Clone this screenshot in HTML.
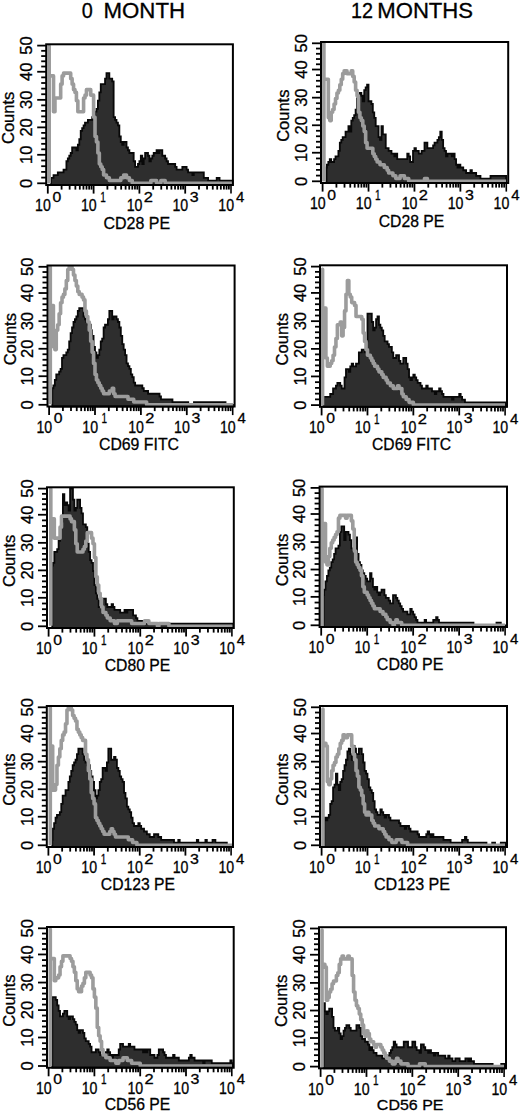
<!DOCTYPE html>
<html><head><meta charset="utf-8"><style>
html,body{margin:0;padding:0;background:#fff;}
svg{display:block;}
text{font-family:"Liberation Sans", sans-serif;fill:#000;stroke:#000;stroke-width:0.3px;}
</style></head><body>
<svg width="520" height="1114" viewBox="0 0 520 1114">
<rect width="520" height="1114" fill="#fff"/>
<text x="81.86" y="17.54" font-size="21.27" textLength="11.01" lengthAdjust="spacingAndGlyphs" stroke-width="0.5">0</text>
<text x="103.47" y="17.54" font-size="21.27" textLength="81.58" lengthAdjust="spacingAndGlyphs" stroke-width="0.5">MONTH</text>
<text x="351.07" y="17.75" font-size="21.57" textLength="22.02" lengthAdjust="spacingAndGlyphs" stroke-width="0.5">12</text>
<text x="377.28" y="17.54" font-size="21.27" textLength="95.83" lengthAdjust="spacingAndGlyphs" stroke-width="0.5">MONTHS</text>
<polygon points="50.92,185 50.92,177.79 53.53,177.79 53.53,175.04 57.82,175.04 57.82,172.28 63.54,172.28 63.54,169.53 66.41,169.53 66.41,161.27 67.84,161.27 67.84,158.51 69.27,158.51 69.27,155.76 70.7,155.76 70.7,153.01 72.13,153.01 72.13,147.5 76.43,147.5 76.43,150.25 77.86,150.25 77.86,144.74 79.29,144.74 79.29,139.24 80.72,139.24 80.72,130.97 82.15,130.97 82.15,128.22 83.58,128.22 83.58,125.47 85.01,125.47 85.01,122.71 87.88,122.71 87.88,119.96 92.17,119.96 92.17,117.2 93.6,117.2 93.6,114.45 95.03,114.45 95.03,111.7 96.46,111.7 96.46,108.94 97.89,108.94 97.89,100.68 99.33,100.68 99.33,92.42 100.76,92.42 100.76,84.16 105.05,84.16 105.05,78.65 106.48,78.65 106.48,73.14 109.34,73.14 109.34,78.65 112.21,78.65 112.21,81.4 113.64,81.4 113.64,117.2 115.07,117.2 115.07,119.96 116.5,119.96 116.5,122.71 117.93,122.71 117.93,125.47 119.36,125.47 119.36,136.48 120.79,136.48 120.79,141.99 122.22,141.99 122.22,144.74 123.66,144.74 123.66,141.99 126.52,141.99 126.52,147.5 127.95,147.5 127.95,150.25 129.38,150.25 129.38,153.01 133.68,153.01 133.68,161.27 135.11,161.27 135.11,166.78 137.97,166.78 137.97,164.02 139.4,164.02 139.4,161.27 140.83,161.27 140.83,155.76 142.26,155.76 142.26,164.02 143.69,164.02 143.69,158.51 145.12,158.51 145.12,153.01 147.99,153.01 147.99,155.76 149.42,155.76 149.42,161.27 150.85,161.27 150.85,158.51 152.28,158.51 152.28,155.76 153.71,155.76 153.71,153.01 156.57,153.01 156.57,150.25 158.01,150.25 158.01,153.01 159.44,153.01 159.44,150.25 162.3,150.25 162.3,155.76 165.16,155.76 165.16,158.51 166.59,158.51 166.59,161.27 168.03,161.27 168.03,164.02 175.18,164.02 175.18,166.78 176.61,166.78 176.61,169.53 182.34,169.53 182.34,166.78 186.63,166.78 186.63,169.53 188.06,169.53 188.06,172.28 192.36,172.28 192.36,175.04 193.79,175.04 193.79,172.28 203.81,172.28 203.81,177.79 208.1,177.79 208.1,180.55 216.69,180.55 216.69,177.79 219.55,177.79 219.55,180.55 232.69,180.55 232.69,185" fill="#2e2e2e" stroke="#080808" stroke-width="1.8" stroke-linejoin="miter"/>
<polyline points="49.2,183.5 49.2,46 49.2,75.89 53.53,75.89 53.53,111.7 54.96,111.7 54.96,97.93 60.68,97.93 60.68,84.16 62.11,84.16 62.11,75.89 63.54,75.89 63.54,73.14 70.7,73.14 70.7,78.65 72.13,78.65 72.13,84.16 73.56,84.16 73.56,89.66 74.99,89.66 74.99,92.42 76.43,92.42 76.43,100.68 77.86,100.68 77.86,111.7 83.58,111.7 83.58,97.93 85.01,97.93 85.01,95.17 86.44,95.17 86.44,89.66 90.74,89.66 90.74,95.17 93.6,95.17 93.6,117.2 95.03,117.2 95.03,136.48 96.46,136.48 96.46,141.99 97.89,141.99 97.89,153.01 99.33,153.01 99.33,164.02 100.76,164.02 100.76,166.78 102.19,166.78 102.19,169.53 103.62,169.53 103.62,175.04 106.48,175.04 106.48,177.79 109.34,177.79 109.34,180.55 120.79,180.55 120.79,177.79 123.66,177.79 123.66,175.04 126.52,175.04 126.52,177.79 129.38,177.79 129.38,180.55 132.24,180.55 132.24,183.3 150.85,183.3 150.85,180.55 156.57,180.55 156.57,183.3 160.87,183.3 160.87,180.55 165.16,180.55 165.16,183.3 232.69,183.3" fill="none" stroke="#9c9c9c" stroke-width="3.6" stroke-linejoin="round"/>
<rect x="46.2" y="44.3" width="186.7" height="140.7" fill="none" stroke="#000" stroke-width="2"/>
<line x1="37.2" y1="183.3" x2="46.2" y2="183.3" stroke="#000" stroke-width="1.8"/>
<line x1="41.2" y1="177.6" x2="46.2" y2="177.6" stroke="#000" stroke-width="1.8"/>
<line x1="41.2" y1="171.9" x2="46.2" y2="171.9" stroke="#000" stroke-width="1.8"/>
<line x1="41.2" y1="166.2" x2="46.2" y2="166.2" stroke="#000" stroke-width="1.8"/>
<line x1="41.2" y1="160.5" x2="46.2" y2="160.5" stroke="#000" stroke-width="1.8"/>
<line x1="37.2" y1="154.8" x2="46.2" y2="154.8" stroke="#000" stroke-width="1.8"/>
<line x1="41.2" y1="149.32" x2="46.2" y2="149.32" stroke="#000" stroke-width="1.8"/>
<line x1="41.2" y1="143.84" x2="46.2" y2="143.84" stroke="#000" stroke-width="1.8"/>
<line x1="41.2" y1="138.35" x2="46.2" y2="138.35" stroke="#000" stroke-width="1.8"/>
<line x1="41.2" y1="132.87" x2="46.2" y2="132.87" stroke="#000" stroke-width="1.8"/>
<line x1="37.2" y1="127.39" x2="46.2" y2="127.39" stroke="#000" stroke-width="1.8"/>
<line x1="41.2" y1="121.89" x2="46.2" y2="121.89" stroke="#000" stroke-width="1.8"/>
<line x1="41.2" y1="116.38" x2="46.2" y2="116.38" stroke="#000" stroke-width="1.8"/>
<line x1="41.2" y1="110.87" x2="46.2" y2="110.87" stroke="#000" stroke-width="1.8"/>
<line x1="41.2" y1="105.36" x2="46.2" y2="105.36" stroke="#000" stroke-width="1.8"/>
<line x1="37.2" y1="99.85" x2="46.2" y2="99.85" stroke="#000" stroke-width="1.8"/>
<line x1="41.2" y1="94.24" x2="46.2" y2="94.24" stroke="#000" stroke-width="1.8"/>
<line x1="41.2" y1="88.62" x2="46.2" y2="88.62" stroke="#000" stroke-width="1.8"/>
<line x1="41.2" y1="83" x2="46.2" y2="83" stroke="#000" stroke-width="1.8"/>
<line x1="41.2" y1="77.38" x2="46.2" y2="77.38" stroke="#000" stroke-width="1.8"/>
<line x1="37.2" y1="71.76" x2="46.2" y2="71.76" stroke="#000" stroke-width="1.8"/>
<line x1="41.2" y1="66.53" x2="46.2" y2="66.53" stroke="#000" stroke-width="1.8"/>
<line x1="41.2" y1="61.3" x2="46.2" y2="61.3" stroke="#000" stroke-width="1.8"/>
<line x1="41.2" y1="56.07" x2="46.2" y2="56.07" stroke="#000" stroke-width="1.8"/>
<line x1="41.2" y1="50.83" x2="46.2" y2="50.83" stroke="#000" stroke-width="1.8"/>
<line x1="37.2" y1="45.6" x2="46.2" y2="45.6" stroke="#000" stroke-width="1.8"/>
<line x1="47.8" y1="185" x2="47.8" y2="193.6" stroke="#000" stroke-width="1.8"/>
<line x1="61.59" y1="185" x2="61.59" y2="189.6" stroke="#000" stroke-width="1.8"/>
<line x1="69.65" y1="185" x2="69.65" y2="189.6" stroke="#000" stroke-width="1.8"/>
<line x1="75.37" y1="185" x2="75.37" y2="189.6" stroke="#000" stroke-width="1.8"/>
<line x1="79.81" y1="185" x2="79.81" y2="189.6" stroke="#000" stroke-width="1.8"/>
<line x1="83.44" y1="185" x2="83.44" y2="189.6" stroke="#000" stroke-width="1.8"/>
<line x1="86.51" y1="185" x2="86.51" y2="189.6" stroke="#000" stroke-width="1.8"/>
<line x1="89.16" y1="185" x2="89.16" y2="189.6" stroke="#000" stroke-width="1.8"/>
<line x1="91.5" y1="185" x2="91.5" y2="189.6" stroke="#000" stroke-width="1.8"/>
<line x1="93.6" y1="185" x2="93.6" y2="193.6" stroke="#000" stroke-width="1.8"/>
<line x1="107.39" y1="185" x2="107.39" y2="189.6" stroke="#000" stroke-width="1.8"/>
<line x1="115.45" y1="185" x2="115.45" y2="189.6" stroke="#000" stroke-width="1.8"/>
<line x1="121.17" y1="185" x2="121.17" y2="189.6" stroke="#000" stroke-width="1.8"/>
<line x1="125.61" y1="185" x2="125.61" y2="189.6" stroke="#000" stroke-width="1.8"/>
<line x1="129.24" y1="185" x2="129.24" y2="189.6" stroke="#000" stroke-width="1.8"/>
<line x1="132.31" y1="185" x2="132.31" y2="189.6" stroke="#000" stroke-width="1.8"/>
<line x1="134.96" y1="185" x2="134.96" y2="189.6" stroke="#000" stroke-width="1.8"/>
<line x1="137.3" y1="185" x2="137.3" y2="189.6" stroke="#000" stroke-width="1.8"/>
<line x1="139.4" y1="185" x2="139.4" y2="193.6" stroke="#000" stroke-width="1.8"/>
<line x1="153.19" y1="185" x2="153.19" y2="189.6" stroke="#000" stroke-width="1.8"/>
<line x1="161.25" y1="185" x2="161.25" y2="189.6" stroke="#000" stroke-width="1.8"/>
<line x1="166.97" y1="185" x2="166.97" y2="189.6" stroke="#000" stroke-width="1.8"/>
<line x1="171.41" y1="185" x2="171.41" y2="189.6" stroke="#000" stroke-width="1.8"/>
<line x1="175.04" y1="185" x2="175.04" y2="189.6" stroke="#000" stroke-width="1.8"/>
<line x1="178.11" y1="185" x2="178.11" y2="189.6" stroke="#000" stroke-width="1.8"/>
<line x1="180.76" y1="185" x2="180.76" y2="189.6" stroke="#000" stroke-width="1.8"/>
<line x1="183.1" y1="185" x2="183.1" y2="189.6" stroke="#000" stroke-width="1.8"/>
<line x1="185.2" y1="185" x2="185.2" y2="193.6" stroke="#000" stroke-width="1.8"/>
<line x1="198.99" y1="185" x2="198.99" y2="189.6" stroke="#000" stroke-width="1.8"/>
<line x1="207.05" y1="185" x2="207.05" y2="189.6" stroke="#000" stroke-width="1.8"/>
<line x1="212.77" y1="185" x2="212.77" y2="189.6" stroke="#000" stroke-width="1.8"/>
<line x1="217.21" y1="185" x2="217.21" y2="189.6" stroke="#000" stroke-width="1.8"/>
<line x1="220.84" y1="185" x2="220.84" y2="189.6" stroke="#000" stroke-width="1.8"/>
<line x1="223.91" y1="185" x2="223.91" y2="189.6" stroke="#000" stroke-width="1.8"/>
<line x1="226.56" y1="185" x2="226.56" y2="189.6" stroke="#000" stroke-width="1.8"/>
<line x1="228.9" y1="185" x2="228.9" y2="189.6" stroke="#000" stroke-width="1.8"/>
<line x1="231" y1="185" x2="231" y2="193.6" stroke="#000" stroke-width="1.6"/>
<text transform="translate(32,183.3) rotate(-90)" text-anchor="middle" font-size="16.5">0</text>
<text transform="translate(32,154.8) rotate(-90)" text-anchor="middle" font-size="16.5">10</text>
<text transform="translate(32,127.39) rotate(-90)" text-anchor="middle" font-size="16.5">20</text>
<text transform="translate(32,99.85) rotate(-90)" text-anchor="middle" font-size="16.5">30</text>
<text transform="translate(32,71.76) rotate(-90)" text-anchor="middle" font-size="16.5">40</text>
<text transform="translate(32,45.6) rotate(-90)" text-anchor="middle" font-size="16.5">50</text>
<text transform="translate(14.2,117.85) rotate(-90)" text-anchor="middle" font-size="16.5">Counts</text>
<text x="35.09" y="211.29" font-size="16.06" textLength="15.76" lengthAdjust="spacingAndGlyphs">10</text>
<text x="52.42" y="201.6" font-size="15.07" textLength="8.78" lengthAdjust="spacingAndGlyphs">0</text>
<text x="80.89" y="211.29" font-size="16.06" textLength="15.76" lengthAdjust="spacingAndGlyphs">10</text>
<text x="100.2" y="201.75" font-size="15.51" textLength="5.56" lengthAdjust="spacingAndGlyphs">1</text>
<text x="126.69" y="211.29" font-size="16.06" textLength="15.76" lengthAdjust="spacingAndGlyphs">10</text>
<text x="143.83" y="201.75" font-size="15.29" textLength="9.17" lengthAdjust="spacingAndGlyphs">2</text>
<text x="172.49" y="211.29" font-size="16.06" textLength="15.76" lengthAdjust="spacingAndGlyphs">10</text>
<text x="189.81" y="201.6" font-size="15.07" textLength="8.88" lengthAdjust="spacingAndGlyphs">3</text>
<text x="218.29" y="211.29" font-size="16.06" textLength="15.76" lengthAdjust="spacingAndGlyphs">10</text>
<text x="235.88" y="201.75" font-size="15.51" textLength="8.34" lengthAdjust="spacingAndGlyphs">4</text>
<text x="103.55" y="228.78" font-size="16.62" textLength="66.6" lengthAdjust="spacingAndGlyphs">CD28 PE</text>
<polygon points="326.52,183 326.52,167.5 326.91,167.5 326.91,164.74 328.34,164.74 328.34,161.98 329.78,161.98 329.78,159.22 331.21,159.22 331.21,161.98 334.08,161.98 334.08,159.22 335.52,159.22 335.52,156.46 338.39,156.46 338.39,150.94 339.82,150.94 339.82,142.66 341.26,142.66 341.26,139.9 342.69,139.9 342.69,137.14 345.56,137.14 345.56,131.62 348.43,131.62 348.43,126.1 349.87,126.1 349.87,131.62 351.3,131.62 351.3,120.58 352.74,120.58 352.74,117.82 354.17,117.82 354.17,115.06 355.61,115.06 355.61,109.54 357.04,109.54 357.04,98.5 358.48,98.5 358.48,95.74 359.91,95.74 359.91,92.98 361.35,92.98 361.35,95.74 362.78,95.74 362.78,101.26 364.22,101.26 364.22,90.22 365.65,90.22 365.65,87.46 367.09,87.46 367.09,84.7 368.53,84.7 368.53,101.26 371.4,101.26 371.4,104.02 372.83,104.02 372.83,112.3 374.27,112.3 374.27,117.82 375.7,117.82 375.7,126.1 378.57,126.1 378.57,137.14 380.01,137.14 380.01,139.9 381.44,139.9 381.44,126.1 382.88,126.1 382.88,134.38 385.75,134.38 385.75,148.18 388.62,148.18 388.62,150.94 391.49,150.94 391.49,153.7 394.36,153.7 394.36,156.46 395.79,156.46 395.79,153.7 397.23,153.7 397.23,159.22 407.27,159.22 407.27,153.7 408.71,153.7 408.71,156.46 410.14,156.46 410.14,161.98 413.01,161.98 413.01,150.94 414.45,150.94 414.45,148.18 415.89,148.18 415.89,150.94 418.76,150.94 418.76,153.7 421.63,153.7 421.63,150.94 424.5,150.94 424.5,142.66 427.37,142.66 427.37,148.18 433.11,148.18 433.11,145.42 434.54,145.42 434.54,142.66 437.41,142.66 437.41,139.9 438.85,139.9 438.85,137.14 440.28,137.14 440.28,131.62 441.72,131.62 441.72,139.9 443.15,139.9 443.15,148.18 444.59,148.18 444.59,150.94 446.02,150.94 446.02,156.46 447.46,156.46 447.46,153.7 451.76,153.7 451.76,156.46 453.2,156.46 453.2,153.7 454.63,153.7 454.63,159.22 456.07,159.22 456.07,164.74 457.5,164.74 457.5,167.5 458.94,167.5 458.94,164.74 460.38,164.74 460.38,167.5 463.25,167.5 463.25,170.26 466.12,170.26 466.12,173.02 470.42,173.02 470.42,170.26 471.86,170.26 471.86,173.02 476.16,173.02 476.16,175.78 480.47,175.78 480.47,178.54 490.51,178.54 490.51,175.78 506.15,175.78 506.15,183" fill="#2e2e2e" stroke="#080808" stroke-width="1.8" stroke-linejoin="miter"/>
<polyline points="323.9,181.55 323.9,43.28 323.9,79.18 328.34,79.18 328.34,117.82 329.78,117.82 329.78,120.58 331.21,120.58 331.21,112.3 332.65,112.3 332.65,109.54 334.08,109.54 334.08,104.02 335.52,104.02 335.52,98.5 336.95,98.5 336.95,92.98 338.39,92.98 338.39,90.22 339.82,90.22 339.82,84.7 341.26,84.7 341.26,79.18 342.69,79.18 342.69,73.66 344.13,73.66 344.13,70.9 347,70.9 347,73.66 351.3,73.66 351.3,70.9 352.74,70.9 352.74,76.42 354.17,76.42 354.17,81.94 355.61,81.94 355.61,90.22 357.04,90.22 357.04,95.74 358.48,95.74 358.48,112.3 359.91,112.3 359.91,117.82 361.35,117.82 361.35,120.58 362.78,120.58 362.78,126.1 364.22,126.1 364.22,131.62 365.65,131.62 365.65,142.66 367.09,142.66 367.09,148.18 372.83,148.18 372.83,153.7 374.27,153.7 374.27,156.46 375.7,156.46 375.7,159.22 377.14,159.22 377.14,161.98 380.01,161.98 380.01,164.74 384.31,164.74 384.31,167.5 387.18,167.5 387.18,170.26 388.62,170.26 388.62,173.02 392.92,173.02 392.92,175.78 395.79,175.78 395.79,178.54 400.1,178.54 400.1,175.78 404.4,175.78 404.4,178.54 408.71,178.54 408.71,181.3 424.5,181.3 424.5,178.54 427.37,178.54 427.37,181.3 506,181.3" fill="none" stroke="#9c9c9c" stroke-width="3.6" stroke-linejoin="round"/>
<rect x="321" y="42" width="187.2" height="141" fill="none" stroke="#000" stroke-width="2"/>
<line x1="312" y1="181.3" x2="321" y2="181.3" stroke="#000" stroke-width="1.8"/>
<line x1="316" y1="175.59" x2="321" y2="175.59" stroke="#000" stroke-width="1.8"/>
<line x1="316" y1="169.87" x2="321" y2="169.87" stroke="#000" stroke-width="1.8"/>
<line x1="316" y1="164.16" x2="321" y2="164.16" stroke="#000" stroke-width="1.8"/>
<line x1="316" y1="158.45" x2="321" y2="158.45" stroke="#000" stroke-width="1.8"/>
<line x1="312" y1="152.73" x2="321" y2="152.73" stroke="#000" stroke-width="1.8"/>
<line x1="316" y1="147.24" x2="321" y2="147.24" stroke="#000" stroke-width="1.8"/>
<line x1="316" y1="141.75" x2="321" y2="141.75" stroke="#000" stroke-width="1.8"/>
<line x1="316" y1="136.26" x2="321" y2="136.26" stroke="#000" stroke-width="1.8"/>
<line x1="316" y1="130.76" x2="321" y2="130.76" stroke="#000" stroke-width="1.8"/>
<line x1="312" y1="125.27" x2="321" y2="125.27" stroke="#000" stroke-width="1.8"/>
<line x1="316" y1="119.75" x2="321" y2="119.75" stroke="#000" stroke-width="1.8"/>
<line x1="316" y1="114.23" x2="321" y2="114.23" stroke="#000" stroke-width="1.8"/>
<line x1="316" y1="108.71" x2="321" y2="108.71" stroke="#000" stroke-width="1.8"/>
<line x1="316" y1="103.19" x2="321" y2="103.19" stroke="#000" stroke-width="1.8"/>
<line x1="312" y1="97.67" x2="321" y2="97.67" stroke="#000" stroke-width="1.8"/>
<line x1="316" y1="92.04" x2="321" y2="92.04" stroke="#000" stroke-width="1.8"/>
<line x1="316" y1="86.41" x2="321" y2="86.41" stroke="#000" stroke-width="1.8"/>
<line x1="316" y1="80.78" x2="321" y2="80.78" stroke="#000" stroke-width="1.8"/>
<line x1="316" y1="75.15" x2="321" y2="75.15" stroke="#000" stroke-width="1.8"/>
<line x1="312" y1="69.52" x2="321" y2="69.52" stroke="#000" stroke-width="1.8"/>
<line x1="316" y1="64.28" x2="321" y2="64.28" stroke="#000" stroke-width="1.8"/>
<line x1="316" y1="59.03" x2="321" y2="59.03" stroke="#000" stroke-width="1.8"/>
<line x1="316" y1="53.79" x2="321" y2="53.79" stroke="#000" stroke-width="1.8"/>
<line x1="316" y1="48.54" x2="321" y2="48.54" stroke="#000" stroke-width="1.8"/>
<line x1="312" y1="43.3" x2="321" y2="43.3" stroke="#000" stroke-width="1.8"/>
<line x1="322.6" y1="183" x2="322.6" y2="191.6" stroke="#000" stroke-width="1.8"/>
<line x1="336.42" y1="183" x2="336.42" y2="187.6" stroke="#000" stroke-width="1.8"/>
<line x1="344.51" y1="183" x2="344.51" y2="187.6" stroke="#000" stroke-width="1.8"/>
<line x1="350.25" y1="183" x2="350.25" y2="187.6" stroke="#000" stroke-width="1.8"/>
<line x1="354.7" y1="183" x2="354.7" y2="187.6" stroke="#000" stroke-width="1.8"/>
<line x1="358.34" y1="183" x2="358.34" y2="187.6" stroke="#000" stroke-width="1.8"/>
<line x1="361.41" y1="183" x2="361.41" y2="187.6" stroke="#000" stroke-width="1.8"/>
<line x1="364.07" y1="183" x2="364.07" y2="187.6" stroke="#000" stroke-width="1.8"/>
<line x1="366.42" y1="183" x2="366.42" y2="187.6" stroke="#000" stroke-width="1.8"/>
<line x1="368.53" y1="183" x2="368.53" y2="191.6" stroke="#000" stroke-width="1.8"/>
<line x1="382.35" y1="183" x2="382.35" y2="187.6" stroke="#000" stroke-width="1.8"/>
<line x1="390.44" y1="183" x2="390.44" y2="187.6" stroke="#000" stroke-width="1.8"/>
<line x1="396.17" y1="183" x2="396.17" y2="187.6" stroke="#000" stroke-width="1.8"/>
<line x1="400.63" y1="183" x2="400.63" y2="187.6" stroke="#000" stroke-width="1.8"/>
<line x1="404.26" y1="183" x2="404.26" y2="187.6" stroke="#000" stroke-width="1.8"/>
<line x1="407.34" y1="183" x2="407.34" y2="187.6" stroke="#000" stroke-width="1.8"/>
<line x1="410" y1="183" x2="410" y2="187.6" stroke="#000" stroke-width="1.8"/>
<line x1="412.35" y1="183" x2="412.35" y2="187.6" stroke="#000" stroke-width="1.8"/>
<line x1="414.45" y1="183" x2="414.45" y2="191.6" stroke="#000" stroke-width="1.8"/>
<line x1="428.27" y1="183" x2="428.27" y2="187.6" stroke="#000" stroke-width="1.8"/>
<line x1="436.36" y1="183" x2="436.36" y2="187.6" stroke="#000" stroke-width="1.8"/>
<line x1="442.1" y1="183" x2="442.1" y2="187.6" stroke="#000" stroke-width="1.8"/>
<line x1="446.55" y1="183" x2="446.55" y2="187.6" stroke="#000" stroke-width="1.8"/>
<line x1="450.19" y1="183" x2="450.19" y2="187.6" stroke="#000" stroke-width="1.8"/>
<line x1="453.26" y1="183" x2="453.26" y2="187.6" stroke="#000" stroke-width="1.8"/>
<line x1="455.92" y1="183" x2="455.92" y2="187.6" stroke="#000" stroke-width="1.8"/>
<line x1="458.27" y1="183" x2="458.27" y2="187.6" stroke="#000" stroke-width="1.8"/>
<line x1="460.38" y1="183" x2="460.38" y2="191.6" stroke="#000" stroke-width="1.8"/>
<line x1="474.2" y1="183" x2="474.2" y2="187.6" stroke="#000" stroke-width="1.8"/>
<line x1="482.29" y1="183" x2="482.29" y2="187.6" stroke="#000" stroke-width="1.8"/>
<line x1="488.02" y1="183" x2="488.02" y2="187.6" stroke="#000" stroke-width="1.8"/>
<line x1="492.48" y1="183" x2="492.48" y2="187.6" stroke="#000" stroke-width="1.8"/>
<line x1="496.11" y1="183" x2="496.11" y2="187.6" stroke="#000" stroke-width="1.8"/>
<line x1="499.19" y1="183" x2="499.19" y2="187.6" stroke="#000" stroke-width="1.8"/>
<line x1="501.85" y1="183" x2="501.85" y2="187.6" stroke="#000" stroke-width="1.8"/>
<line x1="504.2" y1="183" x2="504.2" y2="187.6" stroke="#000" stroke-width="1.8"/>
<line x1="506.3" y1="183" x2="506.3" y2="191.6" stroke="#000" stroke-width="1.6"/>
<text transform="translate(306.8,181.3) rotate(-90)" text-anchor="middle" font-size="16.5">0</text>
<text transform="translate(306.8,152.73) rotate(-90)" text-anchor="middle" font-size="16.5">10</text>
<text transform="translate(306.8,125.27) rotate(-90)" text-anchor="middle" font-size="16.5">20</text>
<text transform="translate(306.8,97.67) rotate(-90)" text-anchor="middle" font-size="16.5">30</text>
<text transform="translate(306.8,69.52) rotate(-90)" text-anchor="middle" font-size="16.5">40</text>
<text transform="translate(306.8,43.3) rotate(-90)" text-anchor="middle" font-size="16.5">50</text>
<text transform="translate(289,115.7) rotate(-90)" text-anchor="middle" font-size="16.5">Counts</text>
<text x="309.89" y="209.29" font-size="16.06" textLength="15.76" lengthAdjust="spacingAndGlyphs">10</text>
<text x="327.22" y="199.6" font-size="15.07" textLength="8.78" lengthAdjust="spacingAndGlyphs">0</text>
<text x="355.81" y="209.29" font-size="16.06" textLength="15.76" lengthAdjust="spacingAndGlyphs">10</text>
<text x="375.12" y="199.75" font-size="15.51" textLength="5.56" lengthAdjust="spacingAndGlyphs">1</text>
<text x="401.74" y="209.29" font-size="16.06" textLength="15.76" lengthAdjust="spacingAndGlyphs">10</text>
<text x="418.88" y="199.75" font-size="15.29" textLength="9.17" lengthAdjust="spacingAndGlyphs">2</text>
<text x="447.66" y="209.29" font-size="16.06" textLength="15.76" lengthAdjust="spacingAndGlyphs">10</text>
<text x="464.99" y="199.6" font-size="15.07" textLength="8.88" lengthAdjust="spacingAndGlyphs">3</text>
<text x="493.59" y="209.29" font-size="16.06" textLength="15.76" lengthAdjust="spacingAndGlyphs">10</text>
<text x="511.18" y="199.75" font-size="15.51" textLength="8.34" lengthAdjust="spacingAndGlyphs">4</text>
<text x="378.76" y="226.88" font-size="17.18" textLength="65.57" lengthAdjust="spacingAndGlyphs">CD28 PE</text>
<polygon points="52.31,406.5 52.31,388.24 53.4,388.24 53.4,385.48 54.84,385.48 54.84,379.96 56.27,379.96 56.27,374.44 59.14,374.44 59.14,371.68 60.58,371.68 60.58,368.92 62.01,368.92 62.01,357.88 63.44,357.88 63.44,355.12 66.31,355.12 66.31,352.36 67.75,352.36 67.75,349.6 69.18,349.6 69.18,341.32 70.62,341.32 70.62,333.04 72.05,333.04 72.05,327.52 73.48,327.52 73.48,322 74.92,322 74.92,319.24 76.35,319.24 76.35,316.48 77.79,316.48 77.79,310.96 79.22,310.96 79.22,308.2 83.53,308.2 83.53,316.48 84.96,316.48 84.96,319.24 86.39,319.24 86.39,322 87.83,322 87.83,324.76 90.7,324.76 90.7,330.28 92.13,330.28 92.13,335.8 93.57,335.8 93.57,346.84 95,346.84 95,352.36 96.43,352.36 96.43,357.88 97.87,357.88 97.87,355.12 99.3,355.12 99.3,349.6 100.74,349.6 100.74,341.32 102.17,341.32 102.17,338.56 103.61,338.56 103.61,327.52 105.04,327.52 105.04,324.76 107.91,324.76 107.91,319.24 109.34,319.24 109.34,310.96 112.21,310.96 112.21,319.24 113.65,319.24 113.65,316.48 116.52,316.48 116.52,319.24 117.95,319.24 117.95,322 119.38,322 119.38,327.52 120.82,327.52 120.82,335.8 122.25,335.8 122.25,344.08 123.69,344.08 123.69,349.6 125.12,349.6 125.12,355.12 126.56,355.12 126.56,363.4 127.99,363.4 127.99,366.16 129.43,366.16 129.43,368.92 130.86,368.92 130.86,374.44 132.29,374.44 132.29,377.2 133.73,377.2 133.73,382.72 135.16,382.72 135.16,385.48 142.33,385.48 142.33,388.24 143.77,388.24 143.77,391 148.07,391 148.07,393.76 159.55,393.76 159.55,396.52 160.98,396.52 160.98,399.28 172.46,399.28 172.46,402.04 188.23,402.04 188.23,404.8 193.97,404.8 193.97,402.04 216.92,402.04 216.92,404.8 218.36,404.8 218.36,402.04 225.53,402.04 225.53,404.8 232.92,404.8 232.92,406.5" fill="#2e2e2e" stroke="#080808" stroke-width="1.8" stroke-linejoin="miter"/>
<polyline points="50.31,404.15 50.31,267.31 50.31,305.44 53.4,305.44 53.4,346.84 54.84,346.84 54.84,349.6 56.27,349.6 56.27,330.28 57.71,330.28 57.71,324.76 59.14,324.76 59.14,313.72 60.58,313.72 60.58,302.68 62.01,302.68 62.01,297.16 63.44,297.16 63.44,294.4 64.88,294.4 64.88,288.88 66.31,288.88 66.31,280.6 67.75,280.6 67.75,269.56 69.18,269.56 69.18,266.8 72.05,266.8 72.05,269.56 73.48,269.56 73.48,275.08 74.92,275.08 74.92,280.6 76.35,280.6 76.35,286.12 77.79,286.12 77.79,291.64 79.22,291.64 79.22,294.4 82.09,294.4 82.09,297.16 83.53,297.16 83.53,299.92 84.96,299.92 84.96,310.96 86.39,310.96 86.39,316.48 87.83,316.48 87.83,322 89.26,322 89.26,330.28 90.7,330.28 90.7,341.32 92.13,341.32 92.13,352.36 93.57,352.36 93.57,363.4 95,363.4 95,374.44 96.43,374.44 96.43,379.96 97.87,379.96 97.87,382.72 99.3,382.72 99.3,385.48 100.74,385.48 100.74,388.24 102.17,388.24 102.17,391 103.61,391 103.61,393.76 109.34,393.76 109.34,391 112.21,391 112.21,388.24 113.65,388.24 113.65,393.76 115.08,393.76 115.08,396.52 127.99,396.52 127.99,399.28 133.73,399.28 133.73,402.04 146.64,402.04 146.64,404.8 232.92,404.8" fill="none" stroke="#9c9c9c" stroke-width="3.6" stroke-linejoin="round"/>
<rect x="47.5" y="265.5" width="187.1" height="141" fill="none" stroke="#000" stroke-width="2"/>
<line x1="38.5" y1="404.8" x2="47.5" y2="404.8" stroke="#000" stroke-width="1.8"/>
<line x1="42.5" y1="399.09" x2="47.5" y2="399.09" stroke="#000" stroke-width="1.8"/>
<line x1="42.5" y1="393.37" x2="47.5" y2="393.37" stroke="#000" stroke-width="1.8"/>
<line x1="42.5" y1="387.66" x2="47.5" y2="387.66" stroke="#000" stroke-width="1.8"/>
<line x1="42.5" y1="381.95" x2="47.5" y2="381.95" stroke="#000" stroke-width="1.8"/>
<line x1="38.5" y1="376.23" x2="47.5" y2="376.23" stroke="#000" stroke-width="1.8"/>
<line x1="42.5" y1="370.74" x2="47.5" y2="370.74" stroke="#000" stroke-width="1.8"/>
<line x1="42.5" y1="365.25" x2="47.5" y2="365.25" stroke="#000" stroke-width="1.8"/>
<line x1="42.5" y1="359.76" x2="47.5" y2="359.76" stroke="#000" stroke-width="1.8"/>
<line x1="42.5" y1="354.26" x2="47.5" y2="354.26" stroke="#000" stroke-width="1.8"/>
<line x1="38.5" y1="348.77" x2="47.5" y2="348.77" stroke="#000" stroke-width="1.8"/>
<line x1="42.5" y1="343.25" x2="47.5" y2="343.25" stroke="#000" stroke-width="1.8"/>
<line x1="42.5" y1="337.73" x2="47.5" y2="337.73" stroke="#000" stroke-width="1.8"/>
<line x1="42.5" y1="332.21" x2="47.5" y2="332.21" stroke="#000" stroke-width="1.8"/>
<line x1="42.5" y1="326.69" x2="47.5" y2="326.69" stroke="#000" stroke-width="1.8"/>
<line x1="38.5" y1="321.17" x2="47.5" y2="321.17" stroke="#000" stroke-width="1.8"/>
<line x1="42.5" y1="315.54" x2="47.5" y2="315.54" stroke="#000" stroke-width="1.8"/>
<line x1="42.5" y1="309.91" x2="47.5" y2="309.91" stroke="#000" stroke-width="1.8"/>
<line x1="42.5" y1="304.28" x2="47.5" y2="304.28" stroke="#000" stroke-width="1.8"/>
<line x1="42.5" y1="298.65" x2="47.5" y2="298.65" stroke="#000" stroke-width="1.8"/>
<line x1="38.5" y1="293.02" x2="47.5" y2="293.02" stroke="#000" stroke-width="1.8"/>
<line x1="42.5" y1="287.78" x2="47.5" y2="287.78" stroke="#000" stroke-width="1.8"/>
<line x1="42.5" y1="282.53" x2="47.5" y2="282.53" stroke="#000" stroke-width="1.8"/>
<line x1="42.5" y1="277.29" x2="47.5" y2="277.29" stroke="#000" stroke-width="1.8"/>
<line x1="42.5" y1="272.04" x2="47.5" y2="272.04" stroke="#000" stroke-width="1.8"/>
<line x1="38.5" y1="266.8" x2="47.5" y2="266.8" stroke="#000" stroke-width="1.8"/>
<line x1="49.1" y1="406.5" x2="49.1" y2="415.1" stroke="#000" stroke-width="1.8"/>
<line x1="62.92" y1="406.5" x2="62.92" y2="411.1" stroke="#000" stroke-width="1.8"/>
<line x1="71" y1="406.5" x2="71" y2="411.1" stroke="#000" stroke-width="1.8"/>
<line x1="76.73" y1="406.5" x2="76.73" y2="411.1" stroke="#000" stroke-width="1.8"/>
<line x1="81.18" y1="406.5" x2="81.18" y2="411.1" stroke="#000" stroke-width="1.8"/>
<line x1="84.82" y1="406.5" x2="84.82" y2="411.1" stroke="#000" stroke-width="1.8"/>
<line x1="87.89" y1="406.5" x2="87.89" y2="411.1" stroke="#000" stroke-width="1.8"/>
<line x1="90.55" y1="406.5" x2="90.55" y2="411.1" stroke="#000" stroke-width="1.8"/>
<line x1="92.9" y1="406.5" x2="92.9" y2="411.1" stroke="#000" stroke-width="1.8"/>
<line x1="95" y1="406.5" x2="95" y2="415.1" stroke="#000" stroke-width="1.8"/>
<line x1="108.82" y1="406.5" x2="108.82" y2="411.1" stroke="#000" stroke-width="1.8"/>
<line x1="116.9" y1="406.5" x2="116.9" y2="411.1" stroke="#000" stroke-width="1.8"/>
<line x1="122.63" y1="406.5" x2="122.63" y2="411.1" stroke="#000" stroke-width="1.8"/>
<line x1="127.08" y1="406.5" x2="127.08" y2="411.1" stroke="#000" stroke-width="1.8"/>
<line x1="130.72" y1="406.5" x2="130.72" y2="411.1" stroke="#000" stroke-width="1.8"/>
<line x1="133.79" y1="406.5" x2="133.79" y2="411.1" stroke="#000" stroke-width="1.8"/>
<line x1="136.45" y1="406.5" x2="136.45" y2="411.1" stroke="#000" stroke-width="1.8"/>
<line x1="138.8" y1="406.5" x2="138.8" y2="411.1" stroke="#000" stroke-width="1.8"/>
<line x1="140.9" y1="406.5" x2="140.9" y2="415.1" stroke="#000" stroke-width="1.8"/>
<line x1="154.72" y1="406.5" x2="154.72" y2="411.1" stroke="#000" stroke-width="1.8"/>
<line x1="162.8" y1="406.5" x2="162.8" y2="411.1" stroke="#000" stroke-width="1.8"/>
<line x1="168.53" y1="406.5" x2="168.53" y2="411.1" stroke="#000" stroke-width="1.8"/>
<line x1="172.98" y1="406.5" x2="172.98" y2="411.1" stroke="#000" stroke-width="1.8"/>
<line x1="176.62" y1="406.5" x2="176.62" y2="411.1" stroke="#000" stroke-width="1.8"/>
<line x1="179.69" y1="406.5" x2="179.69" y2="411.1" stroke="#000" stroke-width="1.8"/>
<line x1="182.35" y1="406.5" x2="182.35" y2="411.1" stroke="#000" stroke-width="1.8"/>
<line x1="184.7" y1="406.5" x2="184.7" y2="411.1" stroke="#000" stroke-width="1.8"/>
<line x1="186.8" y1="406.5" x2="186.8" y2="415.1" stroke="#000" stroke-width="1.8"/>
<line x1="200.62" y1="406.5" x2="200.62" y2="411.1" stroke="#000" stroke-width="1.8"/>
<line x1="208.7" y1="406.5" x2="208.7" y2="411.1" stroke="#000" stroke-width="1.8"/>
<line x1="214.43" y1="406.5" x2="214.43" y2="411.1" stroke="#000" stroke-width="1.8"/>
<line x1="218.88" y1="406.5" x2="218.88" y2="411.1" stroke="#000" stroke-width="1.8"/>
<line x1="222.52" y1="406.5" x2="222.52" y2="411.1" stroke="#000" stroke-width="1.8"/>
<line x1="225.59" y1="406.5" x2="225.59" y2="411.1" stroke="#000" stroke-width="1.8"/>
<line x1="228.25" y1="406.5" x2="228.25" y2="411.1" stroke="#000" stroke-width="1.8"/>
<line x1="230.6" y1="406.5" x2="230.6" y2="411.1" stroke="#000" stroke-width="1.8"/>
<line x1="232.7" y1="406.5" x2="232.7" y2="415.1" stroke="#000" stroke-width="1.6"/>
<text transform="translate(33.3,404.8) rotate(-90)" text-anchor="middle" font-size="16.5">0</text>
<text transform="translate(33.3,376.23) rotate(-90)" text-anchor="middle" font-size="16.5">10</text>
<text transform="translate(33.3,348.77) rotate(-90)" text-anchor="middle" font-size="16.5">20</text>
<text transform="translate(33.3,321.17) rotate(-90)" text-anchor="middle" font-size="16.5">30</text>
<text transform="translate(33.3,293.02) rotate(-90)" text-anchor="middle" font-size="16.5">40</text>
<text transform="translate(33.3,266.8) rotate(-90)" text-anchor="middle" font-size="16.5">50</text>
<text transform="translate(15.5,339.2) rotate(-90)" text-anchor="middle" font-size="16.5">Counts</text>
<text x="36.39" y="432.79" font-size="16.06" textLength="15.76" lengthAdjust="spacingAndGlyphs">10</text>
<text x="53.72" y="423.1" font-size="15.07" textLength="8.78" lengthAdjust="spacingAndGlyphs">0</text>
<text x="82.29" y="432.79" font-size="16.06" textLength="15.76" lengthAdjust="spacingAndGlyphs">10</text>
<text x="101.6" y="423.25" font-size="15.51" textLength="5.56" lengthAdjust="spacingAndGlyphs">1</text>
<text x="128.19" y="432.79" font-size="16.06" textLength="15.76" lengthAdjust="spacingAndGlyphs">10</text>
<text x="145.33" y="423.25" font-size="15.29" textLength="9.17" lengthAdjust="spacingAndGlyphs">2</text>
<text x="174.09" y="432.79" font-size="16.06" textLength="15.76" lengthAdjust="spacingAndGlyphs">10</text>
<text x="191.41" y="423.1" font-size="15.07" textLength="8.88" lengthAdjust="spacingAndGlyphs">3</text>
<text x="219.99" y="432.79" font-size="16.06" textLength="15.76" lengthAdjust="spacingAndGlyphs">10</text>
<text x="237.57" y="423.25" font-size="15.51" textLength="8.34" lengthAdjust="spacingAndGlyphs">4</text>
<text x="98.96" y="449.88" font-size="17.18" textLength="80.04" lengthAdjust="spacingAndGlyphs">CD69 FITC</text>
<polygon points="323.64,406.8 323.64,396.79 330.2,396.79 330.2,394.02 333.07,394.02 333.07,388.48 335.94,388.48 335.94,385.71 337.37,385.71 337.37,382.94 340.24,382.94 340.24,385.71 341.67,385.71 341.67,388.48 344.54,388.48 344.54,377.4 345.97,377.4 345.97,369.09 348.84,369.09 348.84,371.86 350.27,371.86 350.27,366.32 351.71,366.32 351.71,363.55 353.14,363.55 353.14,366.32 356.01,366.32 356.01,363.55 358.87,363.55 358.87,352.47 361.74,352.47 361.74,349.7 364.61,349.7 364.61,352.47 366.04,352.47 366.04,341.39 367.48,341.39 367.48,313.69 371.78,313.69 371.78,322 373.21,322 373.21,330.31 374.64,330.31 374.64,327.54 376.08,327.54 376.08,319.23 377.51,319.23 377.51,316.46 378.94,316.46 378.94,324.77 380.38,324.77 380.38,327.54 381.81,327.54 381.81,330.31 383.24,330.31 383.24,335.85 384.68,335.85 384.68,341.39 387.55,341.39 387.55,344.16 388.98,344.16 388.98,346.93 391.85,346.93 391.85,352.47 393.28,352.47 393.28,358.01 396.15,358.01 396.15,355.24 399.01,355.24 399.01,360.78 400.45,360.78 400.45,363.55 403.31,363.55 403.31,358.01 406.18,358.01 406.18,363.55 407.62,363.55 407.62,369.09 409.05,369.09 409.05,377.4 410.48,377.4 410.48,380.17 411.92,380.17 411.92,377.4 413.35,377.4 413.35,374.63 414.78,374.63 414.78,377.4 416.22,377.4 416.22,380.17 417.65,380.17 417.65,382.94 420.52,382.94 420.52,385.71 421.95,385.71 421.95,388.48 426.25,388.48 426.25,385.71 427.69,385.71 427.69,388.48 431.99,388.48 431.99,391.25 434.85,391.25 434.85,394.02 436.29,394.02 436.29,391.25 439.15,391.25 439.15,388.48 440.59,388.48 440.59,391.25 442.02,391.25 442.02,394.02 443.46,394.02 443.46,396.79 452.06,396.79 452.06,399.56 453.49,399.56 453.49,396.79 459.23,396.79 459.23,394.02 460.66,394.02 460.66,396.79 462.09,396.79 462.09,399.56 464.96,399.56 464.96,402.33 505.7,402.33 505.7,406.8" fill="#2e2e2e" stroke="#080808" stroke-width="1.8" stroke-linejoin="miter"/>
<polyline points="322.58,405.48 322.58,269.31 322.58,308.15 325.9,308.15 325.9,358.01 327.33,358.01 327.33,366.32 330.2,366.32 330.2,363.55 331.64,363.55 331.64,360.78 333.07,360.78 333.07,355.24 334.5,355.24 334.5,346.93 335.94,346.93 335.94,338.62 337.37,338.62 337.37,324.77 340.24,324.77 340.24,322 341.67,322 341.67,335.85 343.1,335.85 343.1,327.54 344.54,327.54 344.54,310.92 345.97,310.92 345.97,294.3 347.4,294.3 347.4,280.45 348.84,280.45 348.84,294.3 350.27,294.3 350.27,297.07 351.71,297.07 351.71,302.61 354.57,302.61 354.57,305.38 356.01,305.38 356.01,316.46 361.74,316.46 361.74,319.23 363.17,319.23 363.17,333.08 364.61,333.08 364.61,341.39 366.04,341.39 366.04,349.7 367.48,349.7 367.48,355.24 370.34,355.24 370.34,358.01 371.78,358.01 371.78,360.78 373.21,360.78 373.21,363.55 374.64,363.55 374.64,366.32 377.51,366.32 377.51,369.09 378.94,369.09 378.94,371.86 381.81,371.86 381.81,374.63 383.24,374.63 383.24,377.4 386.11,377.4 386.11,380.17 387.55,380.17 387.55,382.94 390.41,382.94 390.41,385.71 393.28,385.71 393.28,388.48 397.58,388.48 397.58,385.71 399.01,385.71 399.01,388.48 401.88,388.48 401.88,394.02 403.31,394.02 403.31,396.79 406.18,396.79 406.18,399.56 409.05,399.56 409.05,402.33 413.35,402.33 413.35,405.1 505,405.1" fill="none" stroke="#9c9c9c" stroke-width="3.6" stroke-linejoin="round"/>
<rect x="320" y="265.3" width="187" height="141.5" fill="none" stroke="#000" stroke-width="2"/>
<line x1="311" y1="405.1" x2="320" y2="405.1" stroke="#000" stroke-width="1.8"/>
<line x1="315" y1="399.37" x2="320" y2="399.37" stroke="#000" stroke-width="1.8"/>
<line x1="315" y1="393.63" x2="320" y2="393.63" stroke="#000" stroke-width="1.8"/>
<line x1="315" y1="387.9" x2="320" y2="387.9" stroke="#000" stroke-width="1.8"/>
<line x1="315" y1="382.16" x2="320" y2="382.16" stroke="#000" stroke-width="1.8"/>
<line x1="311" y1="376.43" x2="320" y2="376.43" stroke="#000" stroke-width="1.8"/>
<line x1="315" y1="370.92" x2="320" y2="370.92" stroke="#000" stroke-width="1.8"/>
<line x1="315" y1="365.41" x2="320" y2="365.41" stroke="#000" stroke-width="1.8"/>
<line x1="315" y1="359.89" x2="320" y2="359.89" stroke="#000" stroke-width="1.8"/>
<line x1="315" y1="354.38" x2="320" y2="354.38" stroke="#000" stroke-width="1.8"/>
<line x1="311" y1="348.87" x2="320" y2="348.87" stroke="#000" stroke-width="1.8"/>
<line x1="315" y1="343.33" x2="320" y2="343.33" stroke="#000" stroke-width="1.8"/>
<line x1="315" y1="337.79" x2="320" y2="337.79" stroke="#000" stroke-width="1.8"/>
<line x1="315" y1="332.25" x2="320" y2="332.25" stroke="#000" stroke-width="1.8"/>
<line x1="315" y1="326.71" x2="320" y2="326.71" stroke="#000" stroke-width="1.8"/>
<line x1="311" y1="321.17" x2="320" y2="321.17" stroke="#000" stroke-width="1.8"/>
<line x1="315" y1="315.52" x2="320" y2="315.52" stroke="#000" stroke-width="1.8"/>
<line x1="315" y1="309.87" x2="320" y2="309.87" stroke="#000" stroke-width="1.8"/>
<line x1="315" y1="304.22" x2="320" y2="304.22" stroke="#000" stroke-width="1.8"/>
<line x1="315" y1="298.57" x2="320" y2="298.57" stroke="#000" stroke-width="1.8"/>
<line x1="311" y1="292.92" x2="320" y2="292.92" stroke="#000" stroke-width="1.8"/>
<line x1="315" y1="287.65" x2="320" y2="287.65" stroke="#000" stroke-width="1.8"/>
<line x1="315" y1="282.39" x2="320" y2="282.39" stroke="#000" stroke-width="1.8"/>
<line x1="315" y1="277.13" x2="320" y2="277.13" stroke="#000" stroke-width="1.8"/>
<line x1="315" y1="271.86" x2="320" y2="271.86" stroke="#000" stroke-width="1.8"/>
<line x1="311" y1="266.6" x2="320" y2="266.6" stroke="#000" stroke-width="1.8"/>
<line x1="321.6" y1="406.8" x2="321.6" y2="415.4" stroke="#000" stroke-width="1.8"/>
<line x1="335.41" y1="406.8" x2="335.41" y2="411.4" stroke="#000" stroke-width="1.8"/>
<line x1="343.49" y1="406.8" x2="343.49" y2="411.4" stroke="#000" stroke-width="1.8"/>
<line x1="349.22" y1="406.8" x2="349.22" y2="411.4" stroke="#000" stroke-width="1.8"/>
<line x1="353.67" y1="406.8" x2="353.67" y2="411.4" stroke="#000" stroke-width="1.8"/>
<line x1="357.3" y1="406.8" x2="357.3" y2="411.4" stroke="#000" stroke-width="1.8"/>
<line x1="360.37" y1="406.8" x2="360.37" y2="411.4" stroke="#000" stroke-width="1.8"/>
<line x1="363.03" y1="406.8" x2="363.03" y2="411.4" stroke="#000" stroke-width="1.8"/>
<line x1="365.38" y1="406.8" x2="365.38" y2="411.4" stroke="#000" stroke-width="1.8"/>
<line x1="367.48" y1="406.8" x2="367.48" y2="415.4" stroke="#000" stroke-width="1.8"/>
<line x1="381.28" y1="406.8" x2="381.28" y2="411.4" stroke="#000" stroke-width="1.8"/>
<line x1="389.36" y1="406.8" x2="389.36" y2="411.4" stroke="#000" stroke-width="1.8"/>
<line x1="395.09" y1="406.8" x2="395.09" y2="411.4" stroke="#000" stroke-width="1.8"/>
<line x1="399.54" y1="406.8" x2="399.54" y2="411.4" stroke="#000" stroke-width="1.8"/>
<line x1="403.17" y1="406.8" x2="403.17" y2="411.4" stroke="#000" stroke-width="1.8"/>
<line x1="406.24" y1="406.8" x2="406.24" y2="411.4" stroke="#000" stroke-width="1.8"/>
<line x1="408.9" y1="406.8" x2="408.9" y2="411.4" stroke="#000" stroke-width="1.8"/>
<line x1="411.25" y1="406.8" x2="411.25" y2="411.4" stroke="#000" stroke-width="1.8"/>
<line x1="413.35" y1="406.8" x2="413.35" y2="415.4" stroke="#000" stroke-width="1.8"/>
<line x1="427.16" y1="406.8" x2="427.16" y2="411.4" stroke="#000" stroke-width="1.8"/>
<line x1="435.24" y1="406.8" x2="435.24" y2="411.4" stroke="#000" stroke-width="1.8"/>
<line x1="440.97" y1="406.8" x2="440.97" y2="411.4" stroke="#000" stroke-width="1.8"/>
<line x1="445.42" y1="406.8" x2="445.42" y2="411.4" stroke="#000" stroke-width="1.8"/>
<line x1="449.05" y1="406.8" x2="449.05" y2="411.4" stroke="#000" stroke-width="1.8"/>
<line x1="452.12" y1="406.8" x2="452.12" y2="411.4" stroke="#000" stroke-width="1.8"/>
<line x1="454.78" y1="406.8" x2="454.78" y2="411.4" stroke="#000" stroke-width="1.8"/>
<line x1="457.13" y1="406.8" x2="457.13" y2="411.4" stroke="#000" stroke-width="1.8"/>
<line x1="459.23" y1="406.8" x2="459.23" y2="415.4" stroke="#000" stroke-width="1.8"/>
<line x1="473.03" y1="406.8" x2="473.03" y2="411.4" stroke="#000" stroke-width="1.8"/>
<line x1="481.11" y1="406.8" x2="481.11" y2="411.4" stroke="#000" stroke-width="1.8"/>
<line x1="486.84" y1="406.8" x2="486.84" y2="411.4" stroke="#000" stroke-width="1.8"/>
<line x1="491.29" y1="406.8" x2="491.29" y2="411.4" stroke="#000" stroke-width="1.8"/>
<line x1="494.92" y1="406.8" x2="494.92" y2="411.4" stroke="#000" stroke-width="1.8"/>
<line x1="497.99" y1="406.8" x2="497.99" y2="411.4" stroke="#000" stroke-width="1.8"/>
<line x1="500.65" y1="406.8" x2="500.65" y2="411.4" stroke="#000" stroke-width="1.8"/>
<line x1="503" y1="406.8" x2="503" y2="411.4" stroke="#000" stroke-width="1.8"/>
<line x1="505.1" y1="406.8" x2="505.1" y2="415.4" stroke="#000" stroke-width="1.6"/>
<text transform="translate(305.8,405.1) rotate(-90)" text-anchor="middle" font-size="16.5">0</text>
<text transform="translate(305.8,376.43) rotate(-90)" text-anchor="middle" font-size="16.5">10</text>
<text transform="translate(305.8,348.87) rotate(-90)" text-anchor="middle" font-size="16.5">20</text>
<text transform="translate(305.8,321.17) rotate(-90)" text-anchor="middle" font-size="16.5">30</text>
<text transform="translate(305.8,292.92) rotate(-90)" text-anchor="middle" font-size="16.5">40</text>
<text transform="translate(305.8,266.6) rotate(-90)" text-anchor="middle" font-size="16.5">50</text>
<text transform="translate(288,339.25) rotate(-90)" text-anchor="middle" font-size="16.5">Counts</text>
<text x="308.89" y="433.09" font-size="16.06" textLength="15.76" lengthAdjust="spacingAndGlyphs">10</text>
<text x="326.22" y="423.4" font-size="15.07" textLength="8.78" lengthAdjust="spacingAndGlyphs">0</text>
<text x="354.76" y="433.09" font-size="16.06" textLength="15.76" lengthAdjust="spacingAndGlyphs">10</text>
<text x="374.07" y="423.55" font-size="15.51" textLength="5.56" lengthAdjust="spacingAndGlyphs">1</text>
<text x="400.64" y="433.09" font-size="16.06" textLength="15.76" lengthAdjust="spacingAndGlyphs">10</text>
<text x="417.78" y="423.55" font-size="15.29" textLength="9.17" lengthAdjust="spacingAndGlyphs">2</text>
<text x="446.51" y="433.09" font-size="16.06" textLength="15.76" lengthAdjust="spacingAndGlyphs">10</text>
<text x="463.84" y="423.4" font-size="15.07" textLength="8.88" lengthAdjust="spacingAndGlyphs">3</text>
<text x="492.39" y="433.09" font-size="16.06" textLength="15.76" lengthAdjust="spacingAndGlyphs">10</text>
<text x="509.98" y="423.55" font-size="15.51" textLength="8.34" lengthAdjust="spacingAndGlyphs">4</text>
<text x="372.07" y="449.88" font-size="17.18" textLength="79.03" lengthAdjust="spacingAndGlyphs">CD69 FITC</text>
<polygon points="52.25,628 52.25,565.71 52.9,565.71 52.9,562.96 54.33,562.96 54.33,551.94 57.19,551.94 57.19,549.19 58.62,549.19 58.62,540.93 60.06,540.93 60.06,527.16 61.49,527.16 61.49,521.65 62.92,521.65 62.92,494.11 64.35,494.11 64.35,505.12 65.78,505.12 65.78,502.37 67.22,502.37 67.22,505.12 68.65,505.12 68.65,510.63 70.08,510.63 70.08,488.6 72.94,488.6 72.94,499.62 74.38,499.62 74.38,510.63 75.81,510.63 75.81,507.88 77.24,507.88 77.24,499.62 80.1,499.62 80.1,507.88 81.54,507.88 81.54,513.39 82.97,513.39 82.97,524.4 85.83,524.4 85.83,527.16 87.26,527.16 87.26,543.68 88.7,543.68 88.7,551.94 90.13,551.94 90.13,560.2 91.56,560.2 91.56,562.96 92.99,562.96 92.99,571.22 94.43,571.22 94.43,584.99 95.86,584.99 95.86,593.25 97.29,593.25 97.29,598.76 98.72,598.76 98.72,607.02 101.59,607.02 101.59,604.27 103.02,604.27 103.02,598.76 105.88,598.76 105.88,604.27 107.31,604.27 107.31,607.02 111.61,607.02 111.61,604.27 113.04,604.27 113.04,607.02 114.47,607.02 114.47,609.78 120.2,609.78 120.2,612.53 124.5,612.53 124.5,609.78 125.93,609.78 125.93,612.53 127.36,612.53 127.36,609.78 133.09,609.78 133.09,615.28 135.95,615.28 135.95,618.04 137.39,618.04 137.39,620.79 143.11,620.79 143.11,623.55 232.59,623.55 232.59,628" fill="#2e2e2e" stroke="#080808" stroke-width="1.8" stroke-linejoin="miter"/>
<polyline points="50.81,625.83 50.81,488.81 50.81,518.89 54.33,518.89 54.33,538.17 60.06,538.17 60.06,527.16 61.49,527.16 61.49,516.14 70.08,516.14 70.08,518.89 71.51,518.89 71.51,521.65 74.38,521.65 74.38,529.91 75.81,529.91 75.81,543.68 77.24,543.68 77.24,551.94 82.97,551.94 82.97,549.19 84.4,549.19 84.4,546.43 85.83,546.43 85.83,540.93 87.26,540.93 87.26,532.66 91.56,532.66 91.56,538.17 92.99,538.17 92.99,543.68 94.43,543.68 94.43,557.45 95.86,557.45 95.86,576.73 97.29,576.73 97.29,584.99 98.72,584.99 98.72,593.25 100.15,593.25 100.15,598.76 101.59,598.76 101.59,607.02 103.02,607.02 103.02,612.53 105.88,612.53 105.88,615.28 107.31,615.28 107.31,618.04 110.18,618.04 110.18,620.79 114.47,620.79 114.47,623.55 117.34,623.55 117.34,620.79 131.66,620.79 131.66,623.55 144.55,623.55 144.55,620.79 148.84,620.79 148.84,623.55 157.43,623.55 157.43,626.3 158.87,626.3 158.87,623.55 168.89,623.55 168.89,626.3 232.59,626.3" fill="none" stroke="#9c9c9c" stroke-width="3.6" stroke-linejoin="round"/>
<rect x="47" y="487.3" width="186.8" height="140.7" fill="none" stroke="#000" stroke-width="2"/>
<line x1="38" y1="626.3" x2="47" y2="626.3" stroke="#000" stroke-width="1.8"/>
<line x1="42" y1="620.6" x2="47" y2="620.6" stroke="#000" stroke-width="1.8"/>
<line x1="42" y1="614.9" x2="47" y2="614.9" stroke="#000" stroke-width="1.8"/>
<line x1="42" y1="609.2" x2="47" y2="609.2" stroke="#000" stroke-width="1.8"/>
<line x1="42" y1="603.5" x2="47" y2="603.5" stroke="#000" stroke-width="1.8"/>
<line x1="38" y1="597.8" x2="47" y2="597.8" stroke="#000" stroke-width="1.8"/>
<line x1="42" y1="592.32" x2="47" y2="592.32" stroke="#000" stroke-width="1.8"/>
<line x1="42" y1="586.84" x2="47" y2="586.84" stroke="#000" stroke-width="1.8"/>
<line x1="42" y1="581.35" x2="47" y2="581.35" stroke="#000" stroke-width="1.8"/>
<line x1="42" y1="575.87" x2="47" y2="575.87" stroke="#000" stroke-width="1.8"/>
<line x1="38" y1="570.39" x2="47" y2="570.39" stroke="#000" stroke-width="1.8"/>
<line x1="42" y1="564.89" x2="47" y2="564.89" stroke="#000" stroke-width="1.8"/>
<line x1="42" y1="559.38" x2="47" y2="559.38" stroke="#000" stroke-width="1.8"/>
<line x1="42" y1="553.87" x2="47" y2="553.87" stroke="#000" stroke-width="1.8"/>
<line x1="42" y1="548.36" x2="47" y2="548.36" stroke="#000" stroke-width="1.8"/>
<line x1="38" y1="542.85" x2="47" y2="542.85" stroke="#000" stroke-width="1.8"/>
<line x1="42" y1="537.24" x2="47" y2="537.24" stroke="#000" stroke-width="1.8"/>
<line x1="42" y1="531.62" x2="47" y2="531.62" stroke="#000" stroke-width="1.8"/>
<line x1="42" y1="526" x2="47" y2="526" stroke="#000" stroke-width="1.8"/>
<line x1="42" y1="520.38" x2="47" y2="520.38" stroke="#000" stroke-width="1.8"/>
<line x1="38" y1="514.76" x2="47" y2="514.76" stroke="#000" stroke-width="1.8"/>
<line x1="42" y1="509.53" x2="47" y2="509.53" stroke="#000" stroke-width="1.8"/>
<line x1="42" y1="504.3" x2="47" y2="504.3" stroke="#000" stroke-width="1.8"/>
<line x1="42" y1="499.07" x2="47" y2="499.07" stroke="#000" stroke-width="1.8"/>
<line x1="42" y1="493.83" x2="47" y2="493.83" stroke="#000" stroke-width="1.8"/>
<line x1="38" y1="488.6" x2="47" y2="488.6" stroke="#000" stroke-width="1.8"/>
<line x1="48.6" y1="628" x2="48.6" y2="636.6" stroke="#000" stroke-width="1.8"/>
<line x1="62.39" y1="628" x2="62.39" y2="632.6" stroke="#000" stroke-width="1.8"/>
<line x1="70.46" y1="628" x2="70.46" y2="632.6" stroke="#000" stroke-width="1.8"/>
<line x1="76.19" y1="628" x2="76.19" y2="632.6" stroke="#000" stroke-width="1.8"/>
<line x1="80.63" y1="628" x2="80.63" y2="632.6" stroke="#000" stroke-width="1.8"/>
<line x1="84.26" y1="628" x2="84.26" y2="632.6" stroke="#000" stroke-width="1.8"/>
<line x1="87.33" y1="628" x2="87.33" y2="632.6" stroke="#000" stroke-width="1.8"/>
<line x1="89.98" y1="628" x2="89.98" y2="632.6" stroke="#000" stroke-width="1.8"/>
<line x1="92.33" y1="628" x2="92.33" y2="632.6" stroke="#000" stroke-width="1.8"/>
<line x1="94.43" y1="628" x2="94.43" y2="636.6" stroke="#000" stroke-width="1.8"/>
<line x1="108.22" y1="628" x2="108.22" y2="632.6" stroke="#000" stroke-width="1.8"/>
<line x1="116.29" y1="628" x2="116.29" y2="632.6" stroke="#000" stroke-width="1.8"/>
<line x1="122.01" y1="628" x2="122.01" y2="632.6" stroke="#000" stroke-width="1.8"/>
<line x1="126.46" y1="628" x2="126.46" y2="632.6" stroke="#000" stroke-width="1.8"/>
<line x1="130.08" y1="628" x2="130.08" y2="632.6" stroke="#000" stroke-width="1.8"/>
<line x1="133.15" y1="628" x2="133.15" y2="632.6" stroke="#000" stroke-width="1.8"/>
<line x1="135.81" y1="628" x2="135.81" y2="632.6" stroke="#000" stroke-width="1.8"/>
<line x1="138.15" y1="628" x2="138.15" y2="632.6" stroke="#000" stroke-width="1.8"/>
<line x1="140.25" y1="628" x2="140.25" y2="636.6" stroke="#000" stroke-width="1.8"/>
<line x1="154.04" y1="628" x2="154.04" y2="632.6" stroke="#000" stroke-width="1.8"/>
<line x1="162.11" y1="628" x2="162.11" y2="632.6" stroke="#000" stroke-width="1.8"/>
<line x1="167.84" y1="628" x2="167.84" y2="632.6" stroke="#000" stroke-width="1.8"/>
<line x1="172.28" y1="628" x2="172.28" y2="632.6" stroke="#000" stroke-width="1.8"/>
<line x1="175.91" y1="628" x2="175.91" y2="632.6" stroke="#000" stroke-width="1.8"/>
<line x1="178.98" y1="628" x2="178.98" y2="632.6" stroke="#000" stroke-width="1.8"/>
<line x1="181.63" y1="628" x2="181.63" y2="632.6" stroke="#000" stroke-width="1.8"/>
<line x1="183.98" y1="628" x2="183.98" y2="632.6" stroke="#000" stroke-width="1.8"/>
<line x1="186.08" y1="628" x2="186.08" y2="636.6" stroke="#000" stroke-width="1.8"/>
<line x1="199.87" y1="628" x2="199.87" y2="632.6" stroke="#000" stroke-width="1.8"/>
<line x1="207.94" y1="628" x2="207.94" y2="632.6" stroke="#000" stroke-width="1.8"/>
<line x1="213.66" y1="628" x2="213.66" y2="632.6" stroke="#000" stroke-width="1.8"/>
<line x1="218.11" y1="628" x2="218.11" y2="632.6" stroke="#000" stroke-width="1.8"/>
<line x1="221.73" y1="628" x2="221.73" y2="632.6" stroke="#000" stroke-width="1.8"/>
<line x1="224.8" y1="628" x2="224.8" y2="632.6" stroke="#000" stroke-width="1.8"/>
<line x1="227.46" y1="628" x2="227.46" y2="632.6" stroke="#000" stroke-width="1.8"/>
<line x1="229.8" y1="628" x2="229.8" y2="632.6" stroke="#000" stroke-width="1.8"/>
<line x1="231.9" y1="628" x2="231.9" y2="636.6" stroke="#000" stroke-width="1.6"/>
<text transform="translate(32.8,626.3) rotate(-90)" text-anchor="middle" font-size="16.5">0</text>
<text transform="translate(32.8,597.8) rotate(-90)" text-anchor="middle" font-size="16.5">10</text>
<text transform="translate(32.8,570.39) rotate(-90)" text-anchor="middle" font-size="16.5">20</text>
<text transform="translate(32.8,542.85) rotate(-90)" text-anchor="middle" font-size="16.5">30</text>
<text transform="translate(32.8,514.76) rotate(-90)" text-anchor="middle" font-size="16.5">40</text>
<text transform="translate(32.8,488.6) rotate(-90)" text-anchor="middle" font-size="16.5">50</text>
<text transform="translate(15,560.85) rotate(-90)" text-anchor="middle" font-size="16.5">Counts</text>
<text x="35.89" y="654.29" font-size="16.06" textLength="15.76" lengthAdjust="spacingAndGlyphs">10</text>
<text x="53.22" y="644.6" font-size="15.07" textLength="8.78" lengthAdjust="spacingAndGlyphs">0</text>
<text x="81.71" y="654.29" font-size="16.06" textLength="15.76" lengthAdjust="spacingAndGlyphs">10</text>
<text x="101.03" y="644.75" font-size="15.51" textLength="5.56" lengthAdjust="spacingAndGlyphs">1</text>
<text x="127.54" y="654.29" font-size="16.06" textLength="15.76" lengthAdjust="spacingAndGlyphs">10</text>
<text x="144.68" y="644.75" font-size="15.29" textLength="9.17" lengthAdjust="spacingAndGlyphs">2</text>
<text x="173.36" y="654.29" font-size="16.06" textLength="15.76" lengthAdjust="spacingAndGlyphs">10</text>
<text x="190.69" y="644.6" font-size="15.07" textLength="8.88" lengthAdjust="spacingAndGlyphs">3</text>
<text x="219.19" y="654.29" font-size="16.06" textLength="15.76" lengthAdjust="spacingAndGlyphs">10</text>
<text x="236.78" y="644.75" font-size="15.51" textLength="8.34" lengthAdjust="spacingAndGlyphs">4</text>
<text x="104.76" y="670.88" font-size="17.18" textLength="65.57" lengthAdjust="spacingAndGlyphs">CD80 PE</text>
<polygon points="323.64,627 323.64,595.07 324.07,595.07 324.07,589.58 325.51,589.58 325.51,581.33 326.95,581.33 326.95,575.84 328.38,575.84 328.38,570.34 329.82,570.34 329.82,567.59 331.26,567.59 331.26,562.1 332.69,562.1 332.69,559.35 334.13,559.35 334.13,553.85 335.57,553.85 335.57,548.36 338.44,548.36 338.44,545.61 339.88,545.61 339.88,531.87 341.31,531.87 341.31,526.37 344.19,526.37 344.19,540.11 345.62,540.11 345.62,531.87 348.5,531.87 348.5,534.62 349.93,534.62 349.93,540.11 351.37,540.11 351.37,548.36 352.81,548.36 352.81,551.1 354.24,551.1 354.24,542.86 355.68,542.86 355.68,537.36 357.12,537.36 357.12,553.85 358.55,553.85 358.55,562.1 359.99,562.1 359.99,564.84 361.43,564.84 361.43,570.34 362.86,570.34 362.86,573.09 364.3,573.09 364.3,575.84 365.74,575.84 365.74,578.58 367.18,578.58 367.18,581.33 370.05,581.33 370.05,573.09 371.49,573.09 371.49,578.58 372.92,578.58 372.92,586.83 374.36,586.83 374.36,589.58 375.8,589.58 375.8,586.83 377.23,586.83 377.23,592.32 378.67,592.32 378.67,595.07 380.11,595.07 380.11,592.32 381.54,592.32 381.54,589.58 384.42,589.58 384.42,595.07 385.85,595.07 385.85,597.82 388.73,597.82 388.73,600.57 390.16,600.57 390.16,603.32 393.04,603.32 393.04,595.07 395.91,595.07 395.91,597.82 397.35,597.82 397.35,600.57 398.78,600.57 398.78,603.32 400.22,603.32 400.22,606.06 401.66,606.06 401.66,608.81 403.09,608.81 403.09,611.56 407.4,611.56 407.4,614.31 410.28,614.31 410.28,608.81 411.71,608.81 411.71,611.56 413.15,611.56 413.15,614.31 414.59,614.31 414.59,617.06 416.02,617.06 416.02,619.8 417.46,619.8 417.46,622.55 421.77,622.55 421.77,625.3 423.21,625.3 423.21,622.55 424.64,622.55 424.64,619.8 426.08,619.8 426.08,622.55 433.26,622.55 433.26,619.8 436.14,619.8 436.14,617.06 437.57,617.06 437.57,619.8 439.01,619.8 439.01,622.55 473.49,622.55 473.49,625.3 496.48,625.3 496.48,622.55 500.79,622.55 500.79,625.3 505.7,625.3 505.7,627" fill="#2e2e2e" stroke="#080808" stroke-width="1.8" stroke-linejoin="miter"/>
<polyline points="322.05,626.82 322.05,488.65 322.05,523.62 325.51,523.62 325.51,562.1 326.95,562.1 326.95,564.84 328.38,564.84 328.38,556.6 329.82,556.6 329.82,548.36 331.26,548.36 331.26,542.86 332.69,542.86 332.69,540.11 334.13,540.11 334.13,537.36 335.57,537.36 335.57,534.62 337,534.62 337,531.87 338.44,531.87 338.44,518.13 339.88,518.13 339.88,515.38 345.62,515.38 345.62,518.13 347.06,518.13 347.06,515.38 351.37,515.38 351.37,520.88 352.81,520.88 352.81,529.12 354.24,529.12 354.24,551.1 355.68,551.1 355.68,562.1 357.12,562.1 357.12,564.84 358.55,564.84 358.55,567.59 359.99,567.59 359.99,570.34 361.43,570.34 361.43,575.84 362.86,575.84 362.86,586.83 364.3,586.83 364.3,592.32 367.18,592.32 367.18,595.07 368.61,595.07 368.61,597.82 370.05,597.82 370.05,600.57 371.49,600.57 371.49,603.32 372.92,603.32 372.92,606.06 374.36,606.06 374.36,608.81 380.11,608.81 380.11,611.56 382.98,611.56 382.98,614.31 385.85,614.31 385.85,617.06 387.29,617.06 387.29,619.8 390.16,619.8 390.16,622.55 393.04,622.55 393.04,625.3 394.47,625.3 394.47,622.55 395.91,622.55 395.91,619.8 397.35,619.8 397.35,622.55 401.66,622.55 401.66,625.3 505,625.3" fill="none" stroke="#9c9c9c" stroke-width="3.6" stroke-linejoin="round"/>
<rect x="319.6" y="486.6" width="187.4" height="140.4" fill="none" stroke="#000" stroke-width="2"/>
<line x1="310.6" y1="625.3" x2="319.6" y2="625.3" stroke="#000" stroke-width="1.8"/>
<line x1="314.6" y1="619.61" x2="319.6" y2="619.61" stroke="#000" stroke-width="1.8"/>
<line x1="314.6" y1="613.92" x2="319.6" y2="613.92" stroke="#000" stroke-width="1.8"/>
<line x1="314.6" y1="608.23" x2="319.6" y2="608.23" stroke="#000" stroke-width="1.8"/>
<line x1="314.6" y1="602.55" x2="319.6" y2="602.55" stroke="#000" stroke-width="1.8"/>
<line x1="310.6" y1="596.86" x2="319.6" y2="596.86" stroke="#000" stroke-width="1.8"/>
<line x1="314.6" y1="591.39" x2="319.6" y2="591.39" stroke="#000" stroke-width="1.8"/>
<line x1="314.6" y1="585.92" x2="319.6" y2="585.92" stroke="#000" stroke-width="1.8"/>
<line x1="314.6" y1="580.45" x2="319.6" y2="580.45" stroke="#000" stroke-width="1.8"/>
<line x1="314.6" y1="574.98" x2="319.6" y2="574.98" stroke="#000" stroke-width="1.8"/>
<line x1="310.6" y1="569.52" x2="319.6" y2="569.52" stroke="#000" stroke-width="1.8"/>
<line x1="314.6" y1="564.02" x2="319.6" y2="564.02" stroke="#000" stroke-width="1.8"/>
<line x1="314.6" y1="558.52" x2="319.6" y2="558.52" stroke="#000" stroke-width="1.8"/>
<line x1="314.6" y1="553.03" x2="319.6" y2="553.03" stroke="#000" stroke-width="1.8"/>
<line x1="314.6" y1="547.53" x2="319.6" y2="547.53" stroke="#000" stroke-width="1.8"/>
<line x1="310.6" y1="542.04" x2="319.6" y2="542.04" stroke="#000" stroke-width="1.8"/>
<line x1="314.6" y1="536.43" x2="319.6" y2="536.43" stroke="#000" stroke-width="1.8"/>
<line x1="314.6" y1="530.82" x2="319.6" y2="530.82" stroke="#000" stroke-width="1.8"/>
<line x1="314.6" y1="525.22" x2="319.6" y2="525.22" stroke="#000" stroke-width="1.8"/>
<line x1="314.6" y1="519.61" x2="319.6" y2="519.61" stroke="#000" stroke-width="1.8"/>
<line x1="310.6" y1="514.01" x2="319.6" y2="514.01" stroke="#000" stroke-width="1.8"/>
<line x1="314.6" y1="508.78" x2="319.6" y2="508.78" stroke="#000" stroke-width="1.8"/>
<line x1="314.6" y1="503.56" x2="319.6" y2="503.56" stroke="#000" stroke-width="1.8"/>
<line x1="314.6" y1="498.34" x2="319.6" y2="498.34" stroke="#000" stroke-width="1.8"/>
<line x1="314.6" y1="493.12" x2="319.6" y2="493.12" stroke="#000" stroke-width="1.8"/>
<line x1="310.6" y1="487.9" x2="319.6" y2="487.9" stroke="#000" stroke-width="1.8"/>
<line x1="321.2" y1="627" x2="321.2" y2="635.6" stroke="#000" stroke-width="1.8"/>
<line x1="335.04" y1="627" x2="335.04" y2="631.6" stroke="#000" stroke-width="1.8"/>
<line x1="343.14" y1="627" x2="343.14" y2="631.6" stroke="#000" stroke-width="1.8"/>
<line x1="348.88" y1="627" x2="348.88" y2="631.6" stroke="#000" stroke-width="1.8"/>
<line x1="353.34" y1="627" x2="353.34" y2="631.6" stroke="#000" stroke-width="1.8"/>
<line x1="356.98" y1="627" x2="356.98" y2="631.6" stroke="#000" stroke-width="1.8"/>
<line x1="360.05" y1="627" x2="360.05" y2="631.6" stroke="#000" stroke-width="1.8"/>
<line x1="362.72" y1="627" x2="362.72" y2="631.6" stroke="#000" stroke-width="1.8"/>
<line x1="365.07" y1="627" x2="365.07" y2="631.6" stroke="#000" stroke-width="1.8"/>
<line x1="367.18" y1="627" x2="367.18" y2="635.6" stroke="#000" stroke-width="1.8"/>
<line x1="381.01" y1="627" x2="381.01" y2="631.6" stroke="#000" stroke-width="1.8"/>
<line x1="389.11" y1="627" x2="389.11" y2="631.6" stroke="#000" stroke-width="1.8"/>
<line x1="394.85" y1="627" x2="394.85" y2="631.6" stroke="#000" stroke-width="1.8"/>
<line x1="399.31" y1="627" x2="399.31" y2="631.6" stroke="#000" stroke-width="1.8"/>
<line x1="402.95" y1="627" x2="402.95" y2="631.6" stroke="#000" stroke-width="1.8"/>
<line x1="406.03" y1="627" x2="406.03" y2="631.6" stroke="#000" stroke-width="1.8"/>
<line x1="408.69" y1="627" x2="408.69" y2="631.6" stroke="#000" stroke-width="1.8"/>
<line x1="411.05" y1="627" x2="411.05" y2="631.6" stroke="#000" stroke-width="1.8"/>
<line x1="413.15" y1="627" x2="413.15" y2="635.6" stroke="#000" stroke-width="1.8"/>
<line x1="426.99" y1="627" x2="426.99" y2="631.6" stroke="#000" stroke-width="1.8"/>
<line x1="435.09" y1="627" x2="435.09" y2="631.6" stroke="#000" stroke-width="1.8"/>
<line x1="440.83" y1="627" x2="440.83" y2="631.6" stroke="#000" stroke-width="1.8"/>
<line x1="445.29" y1="627" x2="445.29" y2="631.6" stroke="#000" stroke-width="1.8"/>
<line x1="448.93" y1="627" x2="448.93" y2="631.6" stroke="#000" stroke-width="1.8"/>
<line x1="452" y1="627" x2="452" y2="631.6" stroke="#000" stroke-width="1.8"/>
<line x1="454.67" y1="627" x2="454.67" y2="631.6" stroke="#000" stroke-width="1.8"/>
<line x1="457.02" y1="627" x2="457.02" y2="631.6" stroke="#000" stroke-width="1.8"/>
<line x1="459.12" y1="627" x2="459.12" y2="635.6" stroke="#000" stroke-width="1.8"/>
<line x1="472.96" y1="627" x2="472.96" y2="631.6" stroke="#000" stroke-width="1.8"/>
<line x1="481.06" y1="627" x2="481.06" y2="631.6" stroke="#000" stroke-width="1.8"/>
<line x1="486.8" y1="627" x2="486.8" y2="631.6" stroke="#000" stroke-width="1.8"/>
<line x1="491.26" y1="627" x2="491.26" y2="631.6" stroke="#000" stroke-width="1.8"/>
<line x1="494.9" y1="627" x2="494.9" y2="631.6" stroke="#000" stroke-width="1.8"/>
<line x1="497.98" y1="627" x2="497.98" y2="631.6" stroke="#000" stroke-width="1.8"/>
<line x1="500.64" y1="627" x2="500.64" y2="631.6" stroke="#000" stroke-width="1.8"/>
<line x1="503" y1="627" x2="503" y2="631.6" stroke="#000" stroke-width="1.8"/>
<line x1="505.1" y1="627" x2="505.1" y2="635.6" stroke="#000" stroke-width="1.6"/>
<text transform="translate(305.4,625.3) rotate(-90)" text-anchor="middle" font-size="16.5">0</text>
<text transform="translate(305.4,596.86) rotate(-90)" text-anchor="middle" font-size="16.5">10</text>
<text transform="translate(305.4,569.52) rotate(-90)" text-anchor="middle" font-size="16.5">20</text>
<text transform="translate(305.4,542.04) rotate(-90)" text-anchor="middle" font-size="16.5">30</text>
<text transform="translate(305.4,514.01) rotate(-90)" text-anchor="middle" font-size="16.5">40</text>
<text transform="translate(305.4,487.9) rotate(-90)" text-anchor="middle" font-size="16.5">50</text>
<text transform="translate(287.6,560) rotate(-90)" text-anchor="middle" font-size="16.5">Counts</text>
<text x="308.49" y="653.29" font-size="16.06" textLength="15.76" lengthAdjust="spacingAndGlyphs">10</text>
<text x="325.82" y="643.6" font-size="15.07" textLength="8.78" lengthAdjust="spacingAndGlyphs">0</text>
<text x="354.46" y="653.29" font-size="16.06" textLength="15.76" lengthAdjust="spacingAndGlyphs">10</text>
<text x="373.78" y="643.75" font-size="15.51" textLength="5.56" lengthAdjust="spacingAndGlyphs">1</text>
<text x="400.44" y="653.29" font-size="16.06" textLength="15.76" lengthAdjust="spacingAndGlyphs">10</text>
<text x="417.58" y="643.75" font-size="15.29" textLength="9.17" lengthAdjust="spacingAndGlyphs">2</text>
<text x="446.41" y="653.29" font-size="16.06" textLength="15.76" lengthAdjust="spacingAndGlyphs">10</text>
<text x="463.74" y="643.6" font-size="15.07" textLength="8.88" lengthAdjust="spacingAndGlyphs">3</text>
<text x="492.39" y="653.29" font-size="16.06" textLength="15.76" lengthAdjust="spacingAndGlyphs">10</text>
<text x="509.98" y="643.75" font-size="15.51" textLength="8.34" lengthAdjust="spacingAndGlyphs">4</text>
<text x="376.85" y="669.88" font-size="17.18" textLength="66.6" lengthAdjust="spacingAndGlyphs">CD80 PE</text>
<polygon points="52.31,847 52.31,839.78 52.68,839.78 52.68,828.74 54.11,828.74 54.11,823.22 55.54,823.22 55.54,817.7 56.96,817.7 56.96,814.94 59.82,814.94 59.82,812.18 61.25,812.18 61.25,803.9 62.67,803.9 62.67,795.62 65.53,795.62 65.53,790.1 68.38,790.1 68.38,781.82 69.81,781.82 69.81,776.3 71.24,776.3 71.24,770.78 72.66,770.78 72.66,765.26 74.09,765.26 74.09,762.5 75.52,762.5 75.52,759.74 76.95,759.74 76.95,754.22 78.37,754.22 78.37,748.7 82.66,748.7 82.66,754.22 84.08,754.22 84.08,759.74 85.51,759.74 85.51,762.5 86.94,762.5 86.94,765.26 89.79,765.26 89.79,770.78 91.22,770.78 91.22,776.3 92.65,776.3 92.65,781.82 94.07,781.82 94.07,790.1 95.5,790.1 95.5,798.38 96.93,798.38 96.93,795.62 98.36,795.62 98.36,790.1 99.78,790.1 99.78,781.82 101.21,781.82 101.21,779.06 102.64,779.06 102.64,768.02 105.49,768.02 105.49,770.78 106.92,770.78 106.92,762.5 108.35,762.5 108.35,748.7 111.2,748.7 111.2,759.74 114.06,759.74 114.06,756.98 115.49,756.98 115.49,759.74 116.91,759.74 116.91,768.02 118.34,768.02 118.34,770.78 119.77,770.78 119.77,776.3 121.19,776.3 121.19,779.06 122.62,779.06 122.62,781.82 124.05,781.82 124.05,792.86 125.48,792.86 125.48,798.38 126.9,798.38 126.9,806.66 128.33,806.66 128.33,809.42 129.76,809.42 129.76,812.18 131.19,812.18 131.19,817.7 132.61,817.7 132.61,823.22 134.04,823.22 134.04,825.98 138.32,825.98 138.32,823.22 139.75,823.22 139.75,825.98 141.18,825.98 141.18,828.74 144.03,828.74 144.03,831.5 146.89,831.5 146.89,834.26 149.74,834.26 149.74,837.02 154.02,837.02 154.02,834.26 158.31,834.26 158.31,837.02 161.16,837.02 161.16,839.78 174.01,839.78 174.01,842.54 178.29,842.54 178.29,839.78 179.72,839.78 179.72,842.54 196.84,842.54 196.84,839.78 198.27,839.78 198.27,842.54 205.41,842.54 205.41,839.78 206.84,839.78 206.84,842.54 212.54,842.54 212.54,839.78 215.4,839.78 215.4,842.54 226.82,842.54 226.82,845.3 232.92,845.3 232.92,847" fill="#2e2e2e" stroke="#080808" stroke-width="1.8" stroke-linejoin="miter"/>
<polyline points="50.31,845.15 50.31,707.65 50.31,745.94 52.68,745.94 52.68,790.1 55.54,790.1 55.54,784.58 56.96,784.58 56.96,765.26 58.39,765.26 58.39,756.98 59.82,756.98 59.82,748.7 61.25,748.7 61.25,740.42 62.67,740.42 62.67,734.9 64.1,734.9 64.1,732.14 65.53,732.14 65.53,723.86 66.96,723.86 66.96,710.06 68.38,710.06 68.38,707.3 71.24,707.3 71.24,710.06 72.66,710.06 72.66,715.58 74.09,715.58 74.09,718.34 75.52,718.34 75.52,721.1 76.95,721.1 76.95,729.38 78.37,729.38 78.37,732.14 79.8,732.14 79.8,734.9 81.23,734.9 81.23,737.66 82.66,737.66 82.66,740.42 85.51,740.42 85.51,754.22 86.94,754.22 86.94,759.74 88.37,759.74 88.37,770.78 89.79,770.78 89.79,779.06 91.22,779.06 91.22,792.86 92.65,792.86 92.65,798.38 94.07,798.38 94.07,803.9 95.5,803.9 95.5,817.7 96.93,817.7 96.93,820.46 98.36,820.46 98.36,823.22 99.78,823.22 99.78,825.98 101.21,825.98 101.21,828.74 102.64,828.74 102.64,831.5 104.07,831.5 104.07,834.26 109.78,834.26 109.78,831.5 111.2,831.5 111.2,828.74 112.63,828.74 112.63,831.5 114.06,831.5 114.06,834.26 115.49,834.26 115.49,837.02 128.33,837.02 128.33,839.78 132.61,839.78 132.61,842.54 136.9,842.54 136.9,845.3 232.92,845.3" fill="none" stroke="#9c9c9c" stroke-width="3.6" stroke-linejoin="round"/>
<rect x="46.8" y="706" width="186.2" height="141" fill="none" stroke="#000" stroke-width="2"/>
<line x1="37.8" y1="845.3" x2="46.8" y2="845.3" stroke="#000" stroke-width="1.8"/>
<line x1="41.8" y1="839.59" x2="46.8" y2="839.59" stroke="#000" stroke-width="1.8"/>
<line x1="41.8" y1="833.87" x2="46.8" y2="833.87" stroke="#000" stroke-width="1.8"/>
<line x1="41.8" y1="828.16" x2="46.8" y2="828.16" stroke="#000" stroke-width="1.8"/>
<line x1="41.8" y1="822.45" x2="46.8" y2="822.45" stroke="#000" stroke-width="1.8"/>
<line x1="37.8" y1="816.73" x2="46.8" y2="816.73" stroke="#000" stroke-width="1.8"/>
<line x1="41.8" y1="811.24" x2="46.8" y2="811.24" stroke="#000" stroke-width="1.8"/>
<line x1="41.8" y1="805.75" x2="46.8" y2="805.75" stroke="#000" stroke-width="1.8"/>
<line x1="41.8" y1="800.26" x2="46.8" y2="800.26" stroke="#000" stroke-width="1.8"/>
<line x1="41.8" y1="794.76" x2="46.8" y2="794.76" stroke="#000" stroke-width="1.8"/>
<line x1="37.8" y1="789.27" x2="46.8" y2="789.27" stroke="#000" stroke-width="1.8"/>
<line x1="41.8" y1="783.75" x2="46.8" y2="783.75" stroke="#000" stroke-width="1.8"/>
<line x1="41.8" y1="778.23" x2="46.8" y2="778.23" stroke="#000" stroke-width="1.8"/>
<line x1="41.8" y1="772.71" x2="46.8" y2="772.71" stroke="#000" stroke-width="1.8"/>
<line x1="41.8" y1="767.19" x2="46.8" y2="767.19" stroke="#000" stroke-width="1.8"/>
<line x1="37.8" y1="761.67" x2="46.8" y2="761.67" stroke="#000" stroke-width="1.8"/>
<line x1="41.8" y1="756.04" x2="46.8" y2="756.04" stroke="#000" stroke-width="1.8"/>
<line x1="41.8" y1="750.41" x2="46.8" y2="750.41" stroke="#000" stroke-width="1.8"/>
<line x1="41.8" y1="744.78" x2="46.8" y2="744.78" stroke="#000" stroke-width="1.8"/>
<line x1="41.8" y1="739.15" x2="46.8" y2="739.15" stroke="#000" stroke-width="1.8"/>
<line x1="37.8" y1="733.52" x2="46.8" y2="733.52" stroke="#000" stroke-width="1.8"/>
<line x1="41.8" y1="728.28" x2="46.8" y2="728.28" stroke="#000" stroke-width="1.8"/>
<line x1="41.8" y1="723.03" x2="46.8" y2="723.03" stroke="#000" stroke-width="1.8"/>
<line x1="41.8" y1="717.79" x2="46.8" y2="717.79" stroke="#000" stroke-width="1.8"/>
<line x1="41.8" y1="712.54" x2="46.8" y2="712.54" stroke="#000" stroke-width="1.8"/>
<line x1="37.8" y1="707.3" x2="46.8" y2="707.3" stroke="#000" stroke-width="1.8"/>
<line x1="48.4" y1="847" x2="48.4" y2="855.6" stroke="#000" stroke-width="1.8"/>
<line x1="62.15" y1="847" x2="62.15" y2="851.6" stroke="#000" stroke-width="1.8"/>
<line x1="70.19" y1="847" x2="70.19" y2="851.6" stroke="#000" stroke-width="1.8"/>
<line x1="75.9" y1="847" x2="75.9" y2="851.6" stroke="#000" stroke-width="1.8"/>
<line x1="80.33" y1="847" x2="80.33" y2="851.6" stroke="#000" stroke-width="1.8"/>
<line x1="83.94" y1="847" x2="83.94" y2="851.6" stroke="#000" stroke-width="1.8"/>
<line x1="87" y1="847" x2="87" y2="851.6" stroke="#000" stroke-width="1.8"/>
<line x1="89.65" y1="847" x2="89.65" y2="851.6" stroke="#000" stroke-width="1.8"/>
<line x1="91.99" y1="847" x2="91.99" y2="851.6" stroke="#000" stroke-width="1.8"/>
<line x1="94.07" y1="847" x2="94.07" y2="855.6" stroke="#000" stroke-width="1.8"/>
<line x1="107.82" y1="847" x2="107.82" y2="851.6" stroke="#000" stroke-width="1.8"/>
<line x1="115.87" y1="847" x2="115.87" y2="851.6" stroke="#000" stroke-width="1.8"/>
<line x1="121.57" y1="847" x2="121.57" y2="851.6" stroke="#000" stroke-width="1.8"/>
<line x1="126" y1="847" x2="126" y2="851.6" stroke="#000" stroke-width="1.8"/>
<line x1="129.62" y1="847" x2="129.62" y2="851.6" stroke="#000" stroke-width="1.8"/>
<line x1="132.67" y1="847" x2="132.67" y2="851.6" stroke="#000" stroke-width="1.8"/>
<line x1="135.32" y1="847" x2="135.32" y2="851.6" stroke="#000" stroke-width="1.8"/>
<line x1="137.66" y1="847" x2="137.66" y2="851.6" stroke="#000" stroke-width="1.8"/>
<line x1="139.75" y1="847" x2="139.75" y2="855.6" stroke="#000" stroke-width="1.8"/>
<line x1="153.5" y1="847" x2="153.5" y2="851.6" stroke="#000" stroke-width="1.8"/>
<line x1="161.54" y1="847" x2="161.54" y2="851.6" stroke="#000" stroke-width="1.8"/>
<line x1="167.25" y1="847" x2="167.25" y2="851.6" stroke="#000" stroke-width="1.8"/>
<line x1="171.68" y1="847" x2="171.68" y2="851.6" stroke="#000" stroke-width="1.8"/>
<line x1="175.29" y1="847" x2="175.29" y2="851.6" stroke="#000" stroke-width="1.8"/>
<line x1="178.35" y1="847" x2="178.35" y2="851.6" stroke="#000" stroke-width="1.8"/>
<line x1="181" y1="847" x2="181" y2="851.6" stroke="#000" stroke-width="1.8"/>
<line x1="183.34" y1="847" x2="183.34" y2="851.6" stroke="#000" stroke-width="1.8"/>
<line x1="185.42" y1="847" x2="185.42" y2="855.6" stroke="#000" stroke-width="1.8"/>
<line x1="199.17" y1="847" x2="199.17" y2="851.6" stroke="#000" stroke-width="1.8"/>
<line x1="207.22" y1="847" x2="207.22" y2="851.6" stroke="#000" stroke-width="1.8"/>
<line x1="212.92" y1="847" x2="212.92" y2="851.6" stroke="#000" stroke-width="1.8"/>
<line x1="217.35" y1="847" x2="217.35" y2="851.6" stroke="#000" stroke-width="1.8"/>
<line x1="220.97" y1="847" x2="220.97" y2="851.6" stroke="#000" stroke-width="1.8"/>
<line x1="224.02" y1="847" x2="224.02" y2="851.6" stroke="#000" stroke-width="1.8"/>
<line x1="226.67" y1="847" x2="226.67" y2="851.6" stroke="#000" stroke-width="1.8"/>
<line x1="229.01" y1="847" x2="229.01" y2="851.6" stroke="#000" stroke-width="1.8"/>
<line x1="231.1" y1="847" x2="231.1" y2="855.6" stroke="#000" stroke-width="1.6"/>
<text transform="translate(32.6,845.3) rotate(-90)" text-anchor="middle" font-size="16.5">0</text>
<text transform="translate(32.6,816.73) rotate(-90)" text-anchor="middle" font-size="16.5">10</text>
<text transform="translate(32.6,789.27) rotate(-90)" text-anchor="middle" font-size="16.5">20</text>
<text transform="translate(32.6,761.67) rotate(-90)" text-anchor="middle" font-size="16.5">30</text>
<text transform="translate(32.6,733.52) rotate(-90)" text-anchor="middle" font-size="16.5">40</text>
<text transform="translate(32.6,707.3) rotate(-90)" text-anchor="middle" font-size="16.5">50</text>
<text transform="translate(14.8,779.7) rotate(-90)" text-anchor="middle" font-size="16.5">Counts</text>
<text x="35.69" y="873.29" font-size="16.06" textLength="15.76" lengthAdjust="spacingAndGlyphs">10</text>
<text x="53.02" y="863.6" font-size="15.07" textLength="8.78" lengthAdjust="spacingAndGlyphs">0</text>
<text x="81.36" y="873.29" font-size="16.06" textLength="15.76" lengthAdjust="spacingAndGlyphs">10</text>
<text x="100.67" y="863.75" font-size="15.51" textLength="5.56" lengthAdjust="spacingAndGlyphs">1</text>
<text x="127.04" y="873.29" font-size="16.06" textLength="15.76" lengthAdjust="spacingAndGlyphs">10</text>
<text x="144.18" y="863.75" font-size="15.29" textLength="9.17" lengthAdjust="spacingAndGlyphs">2</text>
<text x="172.71" y="873.29" font-size="16.06" textLength="15.76" lengthAdjust="spacingAndGlyphs">10</text>
<text x="190.04" y="863.6" font-size="15.07" textLength="8.88" lengthAdjust="spacingAndGlyphs">3</text>
<text x="218.39" y="873.29" font-size="16.06" textLength="15.76" lengthAdjust="spacingAndGlyphs">10</text>
<text x="235.97" y="863.75" font-size="15.51" textLength="8.34" lengthAdjust="spacingAndGlyphs">4</text>
<text x="100.86" y="890.48" font-size="16.62" textLength="74.21" lengthAdjust="spacingAndGlyphs">CD123 PE</text>
<polygon points="324.31,847 324.31,820.46 324.47,820.46 324.47,817.7 325.9,817.7 325.9,820.46 327.33,820.46 327.33,817.7 328.77,817.7 328.77,814.94 330.2,814.94 330.2,803.9 331.64,803.9 331.64,801.14 333.07,801.14 333.07,787.34 334.5,787.34 334.5,784.58 335.94,784.58 335.94,773.54 337.37,773.54 337.37,784.58 338.8,784.58 338.8,790.1 340.24,790.1 340.24,781.82 341.67,781.82 341.67,779.06 343.1,779.06 343.1,770.78 344.54,770.78 344.54,765.26 345.97,765.26 345.97,759.74 347.4,759.74 347.4,751.46 348.84,751.46 348.84,748.7 350.27,748.7 350.27,754.22 351.71,754.22 351.71,759.74 353.14,759.74 353.14,745.94 354.57,745.94 354.57,748.7 356.01,748.7 356.01,754.22 358.87,754.22 358.87,748.7 361.74,748.7 361.74,754.22 363.17,754.22 363.17,762.5 364.61,762.5 364.61,770.78 366.04,770.78 366.04,773.54 367.48,773.54 367.48,779.06 368.91,779.06 368.91,787.34 370.34,787.34 370.34,790.1 371.78,790.1 371.78,792.86 373.21,792.86 373.21,801.14 374.64,801.14 374.64,809.42 376.08,809.42 376.08,812.18 377.51,812.18 377.51,814.94 380.38,814.94 380.38,809.42 381.81,809.42 381.81,812.18 383.24,812.18 383.24,814.94 384.68,814.94 384.68,817.7 386.11,817.7 386.11,814.94 388.98,814.94 388.98,817.7 390.41,817.7 390.41,820.46 399.01,820.46 399.01,823.22 400.45,823.22 400.45,825.98 404.75,825.98 404.75,828.74 406.18,828.74 406.18,825.98 409.05,825.98 409.05,828.74 410.48,828.74 410.48,831.5 417.65,831.5 417.65,834.26 419.08,834.26 419.08,837.02 426.25,837.02 426.25,834.26 427.69,834.26 427.69,831.5 429.12,831.5 429.12,834.26 430.55,834.26 430.55,837.02 431.99,837.02 431.99,834.26 433.42,834.26 433.42,837.02 443.46,837.02 443.46,839.78 450.62,839.78 450.62,842.54 462.09,842.54 462.09,839.78 464.96,839.78 464.96,837.02 466.39,837.02 466.39,839.78 467.83,839.78 467.83,842.54 486.46,842.54 486.46,845.3 492.2,845.3 492.2,842.54 495.06,842.54 495.06,845.3 500.8,845.3 500.8,842.54 505.7,842.54 505.7,847" fill="#2e2e2e" stroke="#080808" stroke-width="1.8" stroke-linejoin="miter"/>
<polyline points="322.98,846.48 322.98,708.98 322.98,743.18 325.9,743.18 325.9,745.94 327.33,745.94 327.33,781.82 328.77,781.82 328.77,784.58 330.2,784.58 330.2,779.06 331.64,779.06 331.64,770.78 333.07,770.78 333.07,765.26 334.5,765.26 334.5,762.5 335.94,762.5 335.94,756.98 337.37,756.98 337.37,754.22 338.8,754.22 338.8,748.7 340.24,748.7 340.24,743.18 341.67,743.18 341.67,740.42 343.1,740.42 343.1,734.9 344.54,734.9 344.54,737.66 347.4,737.66 347.4,734.9 351.71,734.9 351.71,745.94 353.14,745.94 353.14,754.22 354.57,754.22 354.57,759.74 356.01,759.74 356.01,770.78 357.44,770.78 357.44,776.3 358.87,776.3 358.87,787.34 360.31,787.34 360.31,790.1 361.74,790.1 361.74,795.62 363.17,795.62 363.17,803.9 364.61,803.9 364.61,812.18 366.04,812.18 366.04,814.94 367.48,814.94 367.48,812.18 368.91,812.18 368.91,814.94 371.78,814.94 371.78,820.46 373.21,820.46 373.21,823.22 374.64,823.22 374.64,825.98 378.94,825.98 378.94,828.74 383.24,828.74 383.24,831.5 384.68,831.5 384.68,834.26 386.11,834.26 386.11,837.02 388.98,837.02 388.98,839.78 391.85,839.78 391.85,842.54 396.15,842.54 396.15,839.78 401.88,839.78 401.88,842.54 407.62,842.54 407.62,845.3 505,845.3" fill="none" stroke="#9c9c9c" stroke-width="3.6" stroke-linejoin="round"/>
<rect x="320" y="706" width="187" height="141" fill="none" stroke="#000" stroke-width="2"/>
<line x1="311" y1="845.3" x2="320" y2="845.3" stroke="#000" stroke-width="1.8"/>
<line x1="315" y1="839.59" x2="320" y2="839.59" stroke="#000" stroke-width="1.8"/>
<line x1="315" y1="833.87" x2="320" y2="833.87" stroke="#000" stroke-width="1.8"/>
<line x1="315" y1="828.16" x2="320" y2="828.16" stroke="#000" stroke-width="1.8"/>
<line x1="315" y1="822.45" x2="320" y2="822.45" stroke="#000" stroke-width="1.8"/>
<line x1="311" y1="816.73" x2="320" y2="816.73" stroke="#000" stroke-width="1.8"/>
<line x1="315" y1="811.24" x2="320" y2="811.24" stroke="#000" stroke-width="1.8"/>
<line x1="315" y1="805.75" x2="320" y2="805.75" stroke="#000" stroke-width="1.8"/>
<line x1="315" y1="800.26" x2="320" y2="800.26" stroke="#000" stroke-width="1.8"/>
<line x1="315" y1="794.76" x2="320" y2="794.76" stroke="#000" stroke-width="1.8"/>
<line x1="311" y1="789.27" x2="320" y2="789.27" stroke="#000" stroke-width="1.8"/>
<line x1="315" y1="783.75" x2="320" y2="783.75" stroke="#000" stroke-width="1.8"/>
<line x1="315" y1="778.23" x2="320" y2="778.23" stroke="#000" stroke-width="1.8"/>
<line x1="315" y1="772.71" x2="320" y2="772.71" stroke="#000" stroke-width="1.8"/>
<line x1="315" y1="767.19" x2="320" y2="767.19" stroke="#000" stroke-width="1.8"/>
<line x1="311" y1="761.67" x2="320" y2="761.67" stroke="#000" stroke-width="1.8"/>
<line x1="315" y1="756.04" x2="320" y2="756.04" stroke="#000" stroke-width="1.8"/>
<line x1="315" y1="750.41" x2="320" y2="750.41" stroke="#000" stroke-width="1.8"/>
<line x1="315" y1="744.78" x2="320" y2="744.78" stroke="#000" stroke-width="1.8"/>
<line x1="315" y1="739.15" x2="320" y2="739.15" stroke="#000" stroke-width="1.8"/>
<line x1="311" y1="733.52" x2="320" y2="733.52" stroke="#000" stroke-width="1.8"/>
<line x1="315" y1="728.28" x2="320" y2="728.28" stroke="#000" stroke-width="1.8"/>
<line x1="315" y1="723.03" x2="320" y2="723.03" stroke="#000" stroke-width="1.8"/>
<line x1="315" y1="717.79" x2="320" y2="717.79" stroke="#000" stroke-width="1.8"/>
<line x1="315" y1="712.54" x2="320" y2="712.54" stroke="#000" stroke-width="1.8"/>
<line x1="311" y1="707.3" x2="320" y2="707.3" stroke="#000" stroke-width="1.8"/>
<line x1="321.6" y1="847" x2="321.6" y2="855.6" stroke="#000" stroke-width="1.8"/>
<line x1="335.41" y1="847" x2="335.41" y2="851.6" stroke="#000" stroke-width="1.8"/>
<line x1="343.49" y1="847" x2="343.49" y2="851.6" stroke="#000" stroke-width="1.8"/>
<line x1="349.22" y1="847" x2="349.22" y2="851.6" stroke="#000" stroke-width="1.8"/>
<line x1="353.67" y1="847" x2="353.67" y2="851.6" stroke="#000" stroke-width="1.8"/>
<line x1="357.3" y1="847" x2="357.3" y2="851.6" stroke="#000" stroke-width="1.8"/>
<line x1="360.37" y1="847" x2="360.37" y2="851.6" stroke="#000" stroke-width="1.8"/>
<line x1="363.03" y1="847" x2="363.03" y2="851.6" stroke="#000" stroke-width="1.8"/>
<line x1="365.38" y1="847" x2="365.38" y2="851.6" stroke="#000" stroke-width="1.8"/>
<line x1="367.48" y1="847" x2="367.48" y2="855.6" stroke="#000" stroke-width="1.8"/>
<line x1="381.28" y1="847" x2="381.28" y2="851.6" stroke="#000" stroke-width="1.8"/>
<line x1="389.36" y1="847" x2="389.36" y2="851.6" stroke="#000" stroke-width="1.8"/>
<line x1="395.09" y1="847" x2="395.09" y2="851.6" stroke="#000" stroke-width="1.8"/>
<line x1="399.54" y1="847" x2="399.54" y2="851.6" stroke="#000" stroke-width="1.8"/>
<line x1="403.17" y1="847" x2="403.17" y2="851.6" stroke="#000" stroke-width="1.8"/>
<line x1="406.24" y1="847" x2="406.24" y2="851.6" stroke="#000" stroke-width="1.8"/>
<line x1="408.9" y1="847" x2="408.9" y2="851.6" stroke="#000" stroke-width="1.8"/>
<line x1="411.25" y1="847" x2="411.25" y2="851.6" stroke="#000" stroke-width="1.8"/>
<line x1="413.35" y1="847" x2="413.35" y2="855.6" stroke="#000" stroke-width="1.8"/>
<line x1="427.16" y1="847" x2="427.16" y2="851.6" stroke="#000" stroke-width="1.8"/>
<line x1="435.24" y1="847" x2="435.24" y2="851.6" stroke="#000" stroke-width="1.8"/>
<line x1="440.97" y1="847" x2="440.97" y2="851.6" stroke="#000" stroke-width="1.8"/>
<line x1="445.42" y1="847" x2="445.42" y2="851.6" stroke="#000" stroke-width="1.8"/>
<line x1="449.05" y1="847" x2="449.05" y2="851.6" stroke="#000" stroke-width="1.8"/>
<line x1="452.12" y1="847" x2="452.12" y2="851.6" stroke="#000" stroke-width="1.8"/>
<line x1="454.78" y1="847" x2="454.78" y2="851.6" stroke="#000" stroke-width="1.8"/>
<line x1="457.13" y1="847" x2="457.13" y2="851.6" stroke="#000" stroke-width="1.8"/>
<line x1="459.23" y1="847" x2="459.23" y2="855.6" stroke="#000" stroke-width="1.8"/>
<line x1="473.03" y1="847" x2="473.03" y2="851.6" stroke="#000" stroke-width="1.8"/>
<line x1="481.11" y1="847" x2="481.11" y2="851.6" stroke="#000" stroke-width="1.8"/>
<line x1="486.84" y1="847" x2="486.84" y2="851.6" stroke="#000" stroke-width="1.8"/>
<line x1="491.29" y1="847" x2="491.29" y2="851.6" stroke="#000" stroke-width="1.8"/>
<line x1="494.92" y1="847" x2="494.92" y2="851.6" stroke="#000" stroke-width="1.8"/>
<line x1="497.99" y1="847" x2="497.99" y2="851.6" stroke="#000" stroke-width="1.8"/>
<line x1="500.65" y1="847" x2="500.65" y2="851.6" stroke="#000" stroke-width="1.8"/>
<line x1="503" y1="847" x2="503" y2="851.6" stroke="#000" stroke-width="1.8"/>
<line x1="505.1" y1="847" x2="505.1" y2="855.6" stroke="#000" stroke-width="1.6"/>
<text transform="translate(305.8,845.3) rotate(-90)" text-anchor="middle" font-size="16.5">0</text>
<text transform="translate(305.8,816.73) rotate(-90)" text-anchor="middle" font-size="16.5">10</text>
<text transform="translate(305.8,789.27) rotate(-90)" text-anchor="middle" font-size="16.5">20</text>
<text transform="translate(305.8,761.67) rotate(-90)" text-anchor="middle" font-size="16.5">30</text>
<text transform="translate(305.8,733.52) rotate(-90)" text-anchor="middle" font-size="16.5">40</text>
<text transform="translate(305.8,707.3) rotate(-90)" text-anchor="middle" font-size="16.5">50</text>
<text transform="translate(288,779.7) rotate(-90)" text-anchor="middle" font-size="16.5">Counts</text>
<text x="308.89" y="873.29" font-size="16.06" textLength="15.76" lengthAdjust="spacingAndGlyphs">10</text>
<text x="326.22" y="863.6" font-size="15.07" textLength="8.78" lengthAdjust="spacingAndGlyphs">0</text>
<text x="354.76" y="873.29" font-size="16.06" textLength="15.76" lengthAdjust="spacingAndGlyphs">10</text>
<text x="374.07" y="863.75" font-size="15.51" textLength="5.56" lengthAdjust="spacingAndGlyphs">1</text>
<text x="400.64" y="873.29" font-size="16.06" textLength="15.76" lengthAdjust="spacingAndGlyphs">10</text>
<text x="417.78" y="863.75" font-size="15.29" textLength="9.17" lengthAdjust="spacingAndGlyphs">2</text>
<text x="446.51" y="873.29" font-size="16.06" textLength="15.76" lengthAdjust="spacingAndGlyphs">10</text>
<text x="463.84" y="863.6" font-size="15.07" textLength="8.88" lengthAdjust="spacingAndGlyphs">3</text>
<text x="492.39" y="873.29" font-size="16.06" textLength="15.76" lengthAdjust="spacingAndGlyphs">10</text>
<text x="509.98" y="863.75" font-size="15.51" textLength="8.34" lengthAdjust="spacingAndGlyphs">4</text>
<text x="373.94" y="889.88" font-size="17.18" textLength="76.15" lengthAdjust="spacingAndGlyphs">CD123 PE</text>
<polygon points="52.31,1067.7 52.31,997.15 55.76,997.15 55.76,999.9 57.19,999.9 57.19,1005.41 58.62,1005.41 58.62,1010.92 60.05,1010.92 60.05,1016.43 62.91,1016.43 62.91,1013.67 64.34,1013.67 64.34,1010.92 67.21,1010.92 67.21,1016.43 68.64,1016.43 68.64,1019.18 70.07,1019.18 70.07,1016.43 72.93,1016.43 72.93,1019.18 74.36,1019.18 74.36,1021.94 75.79,1021.94 75.79,1024.69 77.22,1024.69 77.22,1030.2 78.66,1030.2 78.66,1032.95 80.09,1032.95 80.09,1030.2 82.95,1030.2 82.95,1032.95 84.38,1032.95 84.38,1038.46 85.81,1038.46 85.81,1041.21 88.67,1041.21 88.67,1043.97 90.11,1043.97 90.11,1046.72 91.54,1046.72 91.54,1052.23 95.83,1052.23 95.83,1049.48 98.69,1049.48 98.69,1052.23 100.12,1052.23 100.12,1054.98 105.85,1054.98 105.85,1052.23 107.28,1052.23 107.28,1049.48 108.71,1049.48 108.71,1052.23 110.14,1052.23 110.14,1054.98 111.57,1054.98 111.57,1057.74 113.01,1057.74 113.01,1054.98 118.73,1054.98 118.73,1049.48 120.16,1049.48 120.16,1043.97 123.03,1043.97 123.03,1046.72 128.75,1046.72 128.75,1043.97 130.18,1043.97 130.18,1046.72 134.47,1046.72 134.47,1049.48 143.06,1049.48 143.06,1052.23 144.49,1052.23 144.49,1049.48 145.92,1049.48 145.92,1052.23 147.36,1052.23 147.36,1049.48 150.22,1049.48 150.22,1054.98 154.51,1054.98 154.51,1057.74 157.38,1057.74 157.38,1054.98 158.81,1054.98 158.81,1049.48 163.1,1049.48 163.1,1052.23 164.53,1052.23 164.53,1054.98 165.96,1054.98 165.96,1057.74 173.12,1057.74 173.12,1054.98 174.55,1054.98 174.55,1057.74 178.84,1057.74 178.84,1060.49 188.86,1060.49 188.86,1057.74 190.29,1057.74 190.29,1054.98 191.72,1054.98 191.72,1057.74 194.59,1057.74 194.59,1060.49 203.17,1060.49 203.17,1063.25 204.61,1063.25 204.61,1060.49 211.76,1060.49 211.76,1063.25 230.37,1063.25 230.37,1060.49 231.8,1060.49 231.8,1063.25 232.31,1063.25 232.31,1067.7" fill="#2e2e2e" stroke="#080808" stroke-width="1.8" stroke-linejoin="miter"/>
<polyline points="50.31,1066.15 50.31,929.31 50.31,958.59 54.33,958.59 54.33,980.63 55.76,980.63 55.76,977.87 58.62,977.87 58.62,975.12 60.05,975.12 60.05,966.86 61.48,966.86 61.48,961.35 62.91,961.35 62.91,955.84 70.07,955.84 70.07,958.59 71.5,958.59 71.5,961.35 72.93,961.35 72.93,966.86 74.36,966.86 74.36,972.36 75.79,972.36 75.79,980.63 77.22,980.63 77.22,988.89 78.66,988.89 78.66,991.64 81.52,991.64 81.52,986.13 82.95,986.13 82.95,983.38 84.38,983.38 84.38,977.87 85.81,977.87 85.81,972.36 90.11,972.36 90.11,975.12 91.54,975.12 91.54,977.87 92.97,977.87 92.97,988.89 94.4,988.89 94.4,997.15 95.83,997.15 95.83,1008.17 97.26,1008.17 97.26,1027.44 98.69,1027.44 98.69,1035.71 100.12,1035.71 100.12,1041.21 101.56,1041.21 101.56,1049.48 102.99,1049.48 102.99,1054.98 105.85,1054.98 105.85,1057.74 110.14,1057.74 110.14,1060.49 115.87,1060.49 115.87,1063.25 118.73,1063.25 118.73,1060.49 123.03,1060.49 123.03,1057.74 127.32,1057.74 127.32,1060.49 131.61,1060.49 131.61,1063.25 140.2,1063.25 140.2,1066 232,1066" fill="none" stroke="#9c9c9c" stroke-width="3.6" stroke-linejoin="round"/>
<rect x="47" y="927" width="186.7" height="140.7" fill="none" stroke="#000" stroke-width="2"/>
<line x1="38" y1="1066" x2="47" y2="1066" stroke="#000" stroke-width="1.8"/>
<line x1="42" y1="1060.3" x2="47" y2="1060.3" stroke="#000" stroke-width="1.8"/>
<line x1="42" y1="1054.6" x2="47" y2="1054.6" stroke="#000" stroke-width="1.8"/>
<line x1="42" y1="1048.9" x2="47" y2="1048.9" stroke="#000" stroke-width="1.8"/>
<line x1="42" y1="1043.2" x2="47" y2="1043.2" stroke="#000" stroke-width="1.8"/>
<line x1="38" y1="1037.5" x2="47" y2="1037.5" stroke="#000" stroke-width="1.8"/>
<line x1="42" y1="1032.02" x2="47" y2="1032.02" stroke="#000" stroke-width="1.8"/>
<line x1="42" y1="1026.54" x2="47" y2="1026.54" stroke="#000" stroke-width="1.8"/>
<line x1="42" y1="1021.05" x2="47" y2="1021.05" stroke="#000" stroke-width="1.8"/>
<line x1="42" y1="1015.57" x2="47" y2="1015.57" stroke="#000" stroke-width="1.8"/>
<line x1="38" y1="1010.09" x2="47" y2="1010.09" stroke="#000" stroke-width="1.8"/>
<line x1="42" y1="1004.59" x2="47" y2="1004.59" stroke="#000" stroke-width="1.8"/>
<line x1="42" y1="999.08" x2="47" y2="999.08" stroke="#000" stroke-width="1.8"/>
<line x1="42" y1="993.57" x2="47" y2="993.57" stroke="#000" stroke-width="1.8"/>
<line x1="42" y1="988.06" x2="47" y2="988.06" stroke="#000" stroke-width="1.8"/>
<line x1="38" y1="982.55" x2="47" y2="982.55" stroke="#000" stroke-width="1.8"/>
<line x1="42" y1="976.94" x2="47" y2="976.94" stroke="#000" stroke-width="1.8"/>
<line x1="42" y1="971.32" x2="47" y2="971.32" stroke="#000" stroke-width="1.8"/>
<line x1="42" y1="965.7" x2="47" y2="965.7" stroke="#000" stroke-width="1.8"/>
<line x1="42" y1="960.08" x2="47" y2="960.08" stroke="#000" stroke-width="1.8"/>
<line x1="38" y1="954.46" x2="47" y2="954.46" stroke="#000" stroke-width="1.8"/>
<line x1="42" y1="949.23" x2="47" y2="949.23" stroke="#000" stroke-width="1.8"/>
<line x1="42" y1="944" x2="47" y2="944" stroke="#000" stroke-width="1.8"/>
<line x1="42" y1="938.77" x2="47" y2="938.77" stroke="#000" stroke-width="1.8"/>
<line x1="42" y1="933.53" x2="47" y2="933.53" stroke="#000" stroke-width="1.8"/>
<line x1="38" y1="928.3" x2="47" y2="928.3" stroke="#000" stroke-width="1.8"/>
<line x1="48.6" y1="1067.7" x2="48.6" y2="1076.3" stroke="#000" stroke-width="1.8"/>
<line x1="62.39" y1="1067.7" x2="62.39" y2="1072.3" stroke="#000" stroke-width="1.8"/>
<line x1="70.45" y1="1067.7" x2="70.45" y2="1072.3" stroke="#000" stroke-width="1.8"/>
<line x1="76.17" y1="1067.7" x2="76.17" y2="1072.3" stroke="#000" stroke-width="1.8"/>
<line x1="80.61" y1="1067.7" x2="80.61" y2="1072.3" stroke="#000" stroke-width="1.8"/>
<line x1="84.24" y1="1067.7" x2="84.24" y2="1072.3" stroke="#000" stroke-width="1.8"/>
<line x1="87.31" y1="1067.7" x2="87.31" y2="1072.3" stroke="#000" stroke-width="1.8"/>
<line x1="89.96" y1="1067.7" x2="89.96" y2="1072.3" stroke="#000" stroke-width="1.8"/>
<line x1="92.3" y1="1067.7" x2="92.3" y2="1072.3" stroke="#000" stroke-width="1.8"/>
<line x1="94.4" y1="1067.7" x2="94.4" y2="1076.3" stroke="#000" stroke-width="1.8"/>
<line x1="108.19" y1="1067.7" x2="108.19" y2="1072.3" stroke="#000" stroke-width="1.8"/>
<line x1="116.25" y1="1067.7" x2="116.25" y2="1072.3" stroke="#000" stroke-width="1.8"/>
<line x1="121.97" y1="1067.7" x2="121.97" y2="1072.3" stroke="#000" stroke-width="1.8"/>
<line x1="126.41" y1="1067.7" x2="126.41" y2="1072.3" stroke="#000" stroke-width="1.8"/>
<line x1="130.04" y1="1067.7" x2="130.04" y2="1072.3" stroke="#000" stroke-width="1.8"/>
<line x1="133.11" y1="1067.7" x2="133.11" y2="1072.3" stroke="#000" stroke-width="1.8"/>
<line x1="135.76" y1="1067.7" x2="135.76" y2="1072.3" stroke="#000" stroke-width="1.8"/>
<line x1="138.1" y1="1067.7" x2="138.1" y2="1072.3" stroke="#000" stroke-width="1.8"/>
<line x1="140.2" y1="1067.7" x2="140.2" y2="1076.3" stroke="#000" stroke-width="1.8"/>
<line x1="153.99" y1="1067.7" x2="153.99" y2="1072.3" stroke="#000" stroke-width="1.8"/>
<line x1="162.05" y1="1067.7" x2="162.05" y2="1072.3" stroke="#000" stroke-width="1.8"/>
<line x1="167.77" y1="1067.7" x2="167.77" y2="1072.3" stroke="#000" stroke-width="1.8"/>
<line x1="172.21" y1="1067.7" x2="172.21" y2="1072.3" stroke="#000" stroke-width="1.8"/>
<line x1="175.84" y1="1067.7" x2="175.84" y2="1072.3" stroke="#000" stroke-width="1.8"/>
<line x1="178.91" y1="1067.7" x2="178.91" y2="1072.3" stroke="#000" stroke-width="1.8"/>
<line x1="181.56" y1="1067.7" x2="181.56" y2="1072.3" stroke="#000" stroke-width="1.8"/>
<line x1="183.9" y1="1067.7" x2="183.9" y2="1072.3" stroke="#000" stroke-width="1.8"/>
<line x1="186" y1="1067.7" x2="186" y2="1076.3" stroke="#000" stroke-width="1.8"/>
<line x1="199.79" y1="1067.7" x2="199.79" y2="1072.3" stroke="#000" stroke-width="1.8"/>
<line x1="207.85" y1="1067.7" x2="207.85" y2="1072.3" stroke="#000" stroke-width="1.8"/>
<line x1="213.57" y1="1067.7" x2="213.57" y2="1072.3" stroke="#000" stroke-width="1.8"/>
<line x1="218.01" y1="1067.7" x2="218.01" y2="1072.3" stroke="#000" stroke-width="1.8"/>
<line x1="221.64" y1="1067.7" x2="221.64" y2="1072.3" stroke="#000" stroke-width="1.8"/>
<line x1="224.71" y1="1067.7" x2="224.71" y2="1072.3" stroke="#000" stroke-width="1.8"/>
<line x1="227.36" y1="1067.7" x2="227.36" y2="1072.3" stroke="#000" stroke-width="1.8"/>
<line x1="229.7" y1="1067.7" x2="229.7" y2="1072.3" stroke="#000" stroke-width="1.8"/>
<line x1="231.8" y1="1067.7" x2="231.8" y2="1076.3" stroke="#000" stroke-width="1.6"/>
<text transform="translate(32.8,1066) rotate(-90)" text-anchor="middle" font-size="16.5">0</text>
<text transform="translate(32.8,1037.5) rotate(-90)" text-anchor="middle" font-size="16.5">10</text>
<text transform="translate(32.8,1010.09) rotate(-90)" text-anchor="middle" font-size="16.5">20</text>
<text transform="translate(32.8,982.55) rotate(-90)" text-anchor="middle" font-size="16.5">30</text>
<text transform="translate(32.8,954.46) rotate(-90)" text-anchor="middle" font-size="16.5">40</text>
<text transform="translate(32.8,928.3) rotate(-90)" text-anchor="middle" font-size="16.5">50</text>
<text transform="translate(15,1000.55) rotate(-90)" text-anchor="middle" font-size="16.5">Counts</text>
<text x="35.89" y="1093.99" font-size="16.06" textLength="15.76" lengthAdjust="spacingAndGlyphs">10</text>
<text x="53.22" y="1084.3" font-size="15.07" textLength="8.78" lengthAdjust="spacingAndGlyphs">0</text>
<text x="81.69" y="1093.99" font-size="16.06" textLength="15.76" lengthAdjust="spacingAndGlyphs">10</text>
<text x="101" y="1084.45" font-size="15.51" textLength="5.56" lengthAdjust="spacingAndGlyphs">1</text>
<text x="127.49" y="1093.99" font-size="16.06" textLength="15.76" lengthAdjust="spacingAndGlyphs">10</text>
<text x="144.63" y="1084.45" font-size="15.29" textLength="9.17" lengthAdjust="spacingAndGlyphs">2</text>
<text x="173.29" y="1093.99" font-size="16.06" textLength="15.76" lengthAdjust="spacingAndGlyphs">10</text>
<text x="190.61" y="1084.3" font-size="15.07" textLength="8.88" lengthAdjust="spacingAndGlyphs">3</text>
<text x="219.09" y="1093.99" font-size="16.06" textLength="15.76" lengthAdjust="spacingAndGlyphs">10</text>
<text x="236.67" y="1084.45" font-size="15.51" textLength="8.34" lengthAdjust="spacingAndGlyphs">4</text>
<text x="104.76" y="1109.89" font-size="15.92" textLength="65.57" lengthAdjust="spacingAndGlyphs">CD56 PE</text>
<polygon points="323.64,1068.3 323.64,1003.07 324.9,1003.07 324.9,1011.36 326.33,1011.36 326.33,1014.12 327.77,1014.12 327.77,1011.36 329.2,1011.36 329.2,1008.6 332.07,1008.6 332.07,1016.88 333.5,1016.88 333.5,1027.93 334.94,1027.93 334.94,1030.69 337.8,1030.69 337.8,1027.93 339.24,1027.93 339.24,1033.46 340.67,1033.46 340.67,1038.98 342.1,1038.98 342.1,1036.22 343.54,1036.22 343.54,1030.69 344.97,1030.69 344.97,1027.93 346.4,1027.93 346.4,1025.17 349.27,1025.17 349.27,1027.93 350.71,1027.93 350.71,1030.69 356.44,1030.69 356.44,1025.17 359.31,1025.17 359.31,1027.93 360.74,1027.93 360.74,1036.22 362.17,1036.22 362.17,1038.98 365.04,1038.98 365.04,1041.74 367.91,1041.74 367.91,1044.5 369.34,1044.5 369.34,1050.03 370.78,1050.03 370.78,1047.27 372.21,1047.27 372.21,1050.03 373.64,1050.03 373.64,1052.79 376.51,1052.79 376.51,1055.55 382.24,1055.55 382.24,1058.31 386.55,1058.31 386.55,1055.55 389.41,1055.55 389.41,1052.79 390.85,1052.79 390.85,1050.03 392.28,1050.03 392.28,1047.27 393.71,1047.27 393.71,1041.74 395.15,1041.74 395.15,1044.5 396.58,1044.5 396.58,1047.27 403.75,1047.27 403.75,1041.74 408.05,1041.74 408.05,1047.27 412.35,1047.27 412.35,1041.74 415.22,1041.74 415.22,1047.27 416.65,1047.27 416.65,1050.03 419.52,1050.03 419.52,1052.79 420.95,1052.79 420.95,1044.5 423.82,1044.5 423.82,1047.27 425.25,1047.27 425.25,1050.03 428.12,1050.03 428.12,1052.79 429.55,1052.79 429.55,1050.03 430.99,1050.03 430.99,1052.79 433.85,1052.79 433.85,1055.55 435.29,1055.55 435.29,1052.79 438.15,1052.79 438.15,1055.55 445.32,1055.55 445.32,1058.31 448.19,1058.31 448.19,1055.55 449.62,1055.55 449.62,1058.31 452.49,1058.31 452.49,1061.08 455.36,1061.08 455.36,1058.31 459.66,1058.31 459.66,1061.08 465.39,1061.08 465.39,1058.31 468.26,1058.31 468.26,1061.08 469.69,1061.08 469.69,1058.31 471.13,1058.31 471.13,1061.08 473.99,1061.08 473.99,1063.84 492.63,1063.84 492.63,1066.6 501.23,1066.6 501.23,1063.84 504.91,1063.84 504.91,1068.3" fill="#2e2e2e" stroke="#080808" stroke-width="1.8" stroke-linejoin="miter"/>
<polyline points="322.05,1067.48 322.05,929.98 322.05,964.41 324.9,964.41 324.9,967.17 326.33,967.17 326.33,1000.31 327.77,1000.31 327.77,997.55 329.2,997.55 329.2,992.03 330.64,992.03 330.64,989.26 332.07,989.26 332.07,983.74 333.5,983.74 333.5,980.98 336.37,980.98 336.37,975.45 337.8,975.45 337.8,972.69 339.24,972.69 339.24,964.41 340.67,964.41 340.67,958.88 342.1,958.88 342.1,956.12 343.54,956.12 343.54,958.88 347.84,958.88 347.84,956.12 349.27,956.12 349.27,958.88 352.14,958.88 352.14,975.45 353.57,975.45 353.57,992.03 355.01,992.03 355.01,1000.31 356.44,1000.31 356.44,1005.84 357.87,1005.84 357.87,1008.6 359.31,1008.6 359.31,1014.12 360.74,1014.12 360.74,1019.65 362.17,1019.65 362.17,1025.17 363.61,1025.17 363.61,1033.46 365.04,1033.46 365.04,1036.22 366.48,1036.22 366.48,1030.69 367.91,1030.69 367.91,1033.46 369.34,1033.46 369.34,1038.98 370.78,1038.98 370.78,1041.74 373.64,1041.74 373.64,1044.5 375.08,1044.5 375.08,1047.27 376.51,1047.27 376.51,1044.5 380.81,1044.5 380.81,1047.27 382.24,1047.27 382.24,1050.03 383.68,1050.03 383.68,1052.79 385.11,1052.79 385.11,1055.55 386.55,1055.55 386.55,1058.31 389.41,1058.31 389.41,1061.08 392.28,1061.08 392.28,1063.84 395.15,1063.84 395.15,1061.08 396.58,1061.08 396.58,1058.31 398.01,1058.31 398.01,1061.08 400.88,1061.08 400.88,1063.84 408.05,1063.84 408.05,1066.6 419.52,1066.6 419.52,1063.84 425.25,1063.84 425.25,1066.6 504,1066.6" fill="none" stroke="#9c9c9c" stroke-width="3.6" stroke-linejoin="round"/>
<rect x="319" y="927.2" width="187" height="141.1" fill="none" stroke="#000" stroke-width="2"/>
<line x1="310" y1="1066.6" x2="319" y2="1066.6" stroke="#000" stroke-width="1.8"/>
<line x1="314" y1="1060.88" x2="319" y2="1060.88" stroke="#000" stroke-width="1.8"/>
<line x1="314" y1="1055.17" x2="319" y2="1055.17" stroke="#000" stroke-width="1.8"/>
<line x1="314" y1="1049.45" x2="319" y2="1049.45" stroke="#000" stroke-width="1.8"/>
<line x1="314" y1="1043.73" x2="319" y2="1043.73" stroke="#000" stroke-width="1.8"/>
<line x1="310" y1="1038.01" x2="319" y2="1038.01" stroke="#000" stroke-width="1.8"/>
<line x1="314" y1="1032.52" x2="319" y2="1032.52" stroke="#000" stroke-width="1.8"/>
<line x1="314" y1="1027.02" x2="319" y2="1027.02" stroke="#000" stroke-width="1.8"/>
<line x1="314" y1="1021.52" x2="319" y2="1021.52" stroke="#000" stroke-width="1.8"/>
<line x1="314" y1="1016.03" x2="319" y2="1016.03" stroke="#000" stroke-width="1.8"/>
<line x1="310" y1="1010.53" x2="319" y2="1010.53" stroke="#000" stroke-width="1.8"/>
<line x1="314" y1="1005.01" x2="319" y2="1005.01" stroke="#000" stroke-width="1.8"/>
<line x1="314" y1="999.48" x2="319" y2="999.48" stroke="#000" stroke-width="1.8"/>
<line x1="314" y1="993.96" x2="319" y2="993.96" stroke="#000" stroke-width="1.8"/>
<line x1="314" y1="988.44" x2="319" y2="988.44" stroke="#000" stroke-width="1.8"/>
<line x1="310" y1="982.91" x2="319" y2="982.91" stroke="#000" stroke-width="1.8"/>
<line x1="314" y1="977.28" x2="319" y2="977.28" stroke="#000" stroke-width="1.8"/>
<line x1="314" y1="971.64" x2="319" y2="971.64" stroke="#000" stroke-width="1.8"/>
<line x1="314" y1="966.01" x2="319" y2="966.01" stroke="#000" stroke-width="1.8"/>
<line x1="314" y1="960.37" x2="319" y2="960.37" stroke="#000" stroke-width="1.8"/>
<line x1="310" y1="954.74" x2="319" y2="954.74" stroke="#000" stroke-width="1.8"/>
<line x1="314" y1="949.49" x2="319" y2="949.49" stroke="#000" stroke-width="1.8"/>
<line x1="314" y1="944.24" x2="319" y2="944.24" stroke="#000" stroke-width="1.8"/>
<line x1="314" y1="939" x2="319" y2="939" stroke="#000" stroke-width="1.8"/>
<line x1="314" y1="933.75" x2="319" y2="933.75" stroke="#000" stroke-width="1.8"/>
<line x1="310" y1="928.5" x2="319" y2="928.5" stroke="#000" stroke-width="1.8"/>
<line x1="320.6" y1="1068.3" x2="320.6" y2="1076.9" stroke="#000" stroke-width="1.8"/>
<line x1="334.41" y1="1068.3" x2="334.41" y2="1072.9" stroke="#000" stroke-width="1.8"/>
<line x1="342.49" y1="1068.3" x2="342.49" y2="1072.9" stroke="#000" stroke-width="1.8"/>
<line x1="348.22" y1="1068.3" x2="348.22" y2="1072.9" stroke="#000" stroke-width="1.8"/>
<line x1="352.67" y1="1068.3" x2="352.67" y2="1072.9" stroke="#000" stroke-width="1.8"/>
<line x1="356.3" y1="1068.3" x2="356.3" y2="1072.9" stroke="#000" stroke-width="1.8"/>
<line x1="359.37" y1="1068.3" x2="359.37" y2="1072.9" stroke="#000" stroke-width="1.8"/>
<line x1="362.03" y1="1068.3" x2="362.03" y2="1072.9" stroke="#000" stroke-width="1.8"/>
<line x1="364.38" y1="1068.3" x2="364.38" y2="1072.9" stroke="#000" stroke-width="1.8"/>
<line x1="366.48" y1="1068.3" x2="366.48" y2="1076.9" stroke="#000" stroke-width="1.8"/>
<line x1="380.28" y1="1068.3" x2="380.28" y2="1072.9" stroke="#000" stroke-width="1.8"/>
<line x1="388.36" y1="1068.3" x2="388.36" y2="1072.9" stroke="#000" stroke-width="1.8"/>
<line x1="394.09" y1="1068.3" x2="394.09" y2="1072.9" stroke="#000" stroke-width="1.8"/>
<line x1="398.54" y1="1068.3" x2="398.54" y2="1072.9" stroke="#000" stroke-width="1.8"/>
<line x1="402.17" y1="1068.3" x2="402.17" y2="1072.9" stroke="#000" stroke-width="1.8"/>
<line x1="405.24" y1="1068.3" x2="405.24" y2="1072.9" stroke="#000" stroke-width="1.8"/>
<line x1="407.9" y1="1068.3" x2="407.9" y2="1072.9" stroke="#000" stroke-width="1.8"/>
<line x1="410.25" y1="1068.3" x2="410.25" y2="1072.9" stroke="#000" stroke-width="1.8"/>
<line x1="412.35" y1="1068.3" x2="412.35" y2="1076.9" stroke="#000" stroke-width="1.8"/>
<line x1="426.16" y1="1068.3" x2="426.16" y2="1072.9" stroke="#000" stroke-width="1.8"/>
<line x1="434.24" y1="1068.3" x2="434.24" y2="1072.9" stroke="#000" stroke-width="1.8"/>
<line x1="439.97" y1="1068.3" x2="439.97" y2="1072.9" stroke="#000" stroke-width="1.8"/>
<line x1="444.42" y1="1068.3" x2="444.42" y2="1072.9" stroke="#000" stroke-width="1.8"/>
<line x1="448.05" y1="1068.3" x2="448.05" y2="1072.9" stroke="#000" stroke-width="1.8"/>
<line x1="451.12" y1="1068.3" x2="451.12" y2="1072.9" stroke="#000" stroke-width="1.8"/>
<line x1="453.78" y1="1068.3" x2="453.78" y2="1072.9" stroke="#000" stroke-width="1.8"/>
<line x1="456.13" y1="1068.3" x2="456.13" y2="1072.9" stroke="#000" stroke-width="1.8"/>
<line x1="458.23" y1="1068.3" x2="458.23" y2="1076.9" stroke="#000" stroke-width="1.8"/>
<line x1="472.03" y1="1068.3" x2="472.03" y2="1072.9" stroke="#000" stroke-width="1.8"/>
<line x1="480.11" y1="1068.3" x2="480.11" y2="1072.9" stroke="#000" stroke-width="1.8"/>
<line x1="485.84" y1="1068.3" x2="485.84" y2="1072.9" stroke="#000" stroke-width="1.8"/>
<line x1="490.29" y1="1068.3" x2="490.29" y2="1072.9" stroke="#000" stroke-width="1.8"/>
<line x1="493.92" y1="1068.3" x2="493.92" y2="1072.9" stroke="#000" stroke-width="1.8"/>
<line x1="496.99" y1="1068.3" x2="496.99" y2="1072.9" stroke="#000" stroke-width="1.8"/>
<line x1="499.65" y1="1068.3" x2="499.65" y2="1072.9" stroke="#000" stroke-width="1.8"/>
<line x1="502" y1="1068.3" x2="502" y2="1072.9" stroke="#000" stroke-width="1.8"/>
<line x1="504.1" y1="1068.3" x2="504.1" y2="1076.9" stroke="#000" stroke-width="1.6"/>
<text transform="translate(304.8,1066.6) rotate(-90)" text-anchor="middle" font-size="16.5">0</text>
<text transform="translate(304.8,1038.01) rotate(-90)" text-anchor="middle" font-size="16.5">10</text>
<text transform="translate(304.8,1010.53) rotate(-90)" text-anchor="middle" font-size="16.5">20</text>
<text transform="translate(304.8,982.91) rotate(-90)" text-anchor="middle" font-size="16.5">30</text>
<text transform="translate(304.8,954.74) rotate(-90)" text-anchor="middle" font-size="16.5">40</text>
<text transform="translate(304.8,928.5) rotate(-90)" text-anchor="middle" font-size="16.5">50</text>
<text transform="translate(287,1000.95) rotate(-90)" text-anchor="middle" font-size="16.5">Counts</text>
<text x="307.89" y="1094.59" font-size="16.06" textLength="15.76" lengthAdjust="spacingAndGlyphs">10</text>
<text x="325.22" y="1084.9" font-size="15.07" textLength="8.78" lengthAdjust="spacingAndGlyphs">0</text>
<text x="353.76" y="1094.59" font-size="16.06" textLength="15.76" lengthAdjust="spacingAndGlyphs">10</text>
<text x="373.07" y="1085.05" font-size="15.51" textLength="5.56" lengthAdjust="spacingAndGlyphs">1</text>
<text x="399.64" y="1094.59" font-size="16.06" textLength="15.76" lengthAdjust="spacingAndGlyphs">10</text>
<text x="416.78" y="1085.05" font-size="15.29" textLength="9.17" lengthAdjust="spacingAndGlyphs">2</text>
<text x="445.51" y="1094.59" font-size="16.06" textLength="15.76" lengthAdjust="spacingAndGlyphs">10</text>
<text x="462.84" y="1084.9" font-size="15.07" textLength="8.88" lengthAdjust="spacingAndGlyphs">3</text>
<text x="491.39" y="1094.59" font-size="16.06" textLength="15.76" lengthAdjust="spacingAndGlyphs">10</text>
<text x="508.98" y="1085.05" font-size="15.51" textLength="8.34" lengthAdjust="spacingAndGlyphs">4</text>
<text x="376.85" y="1110.2" font-size="14.93" textLength="66.6" lengthAdjust="spacingAndGlyphs">CD56 PE</text>
</svg>
</body></html>
